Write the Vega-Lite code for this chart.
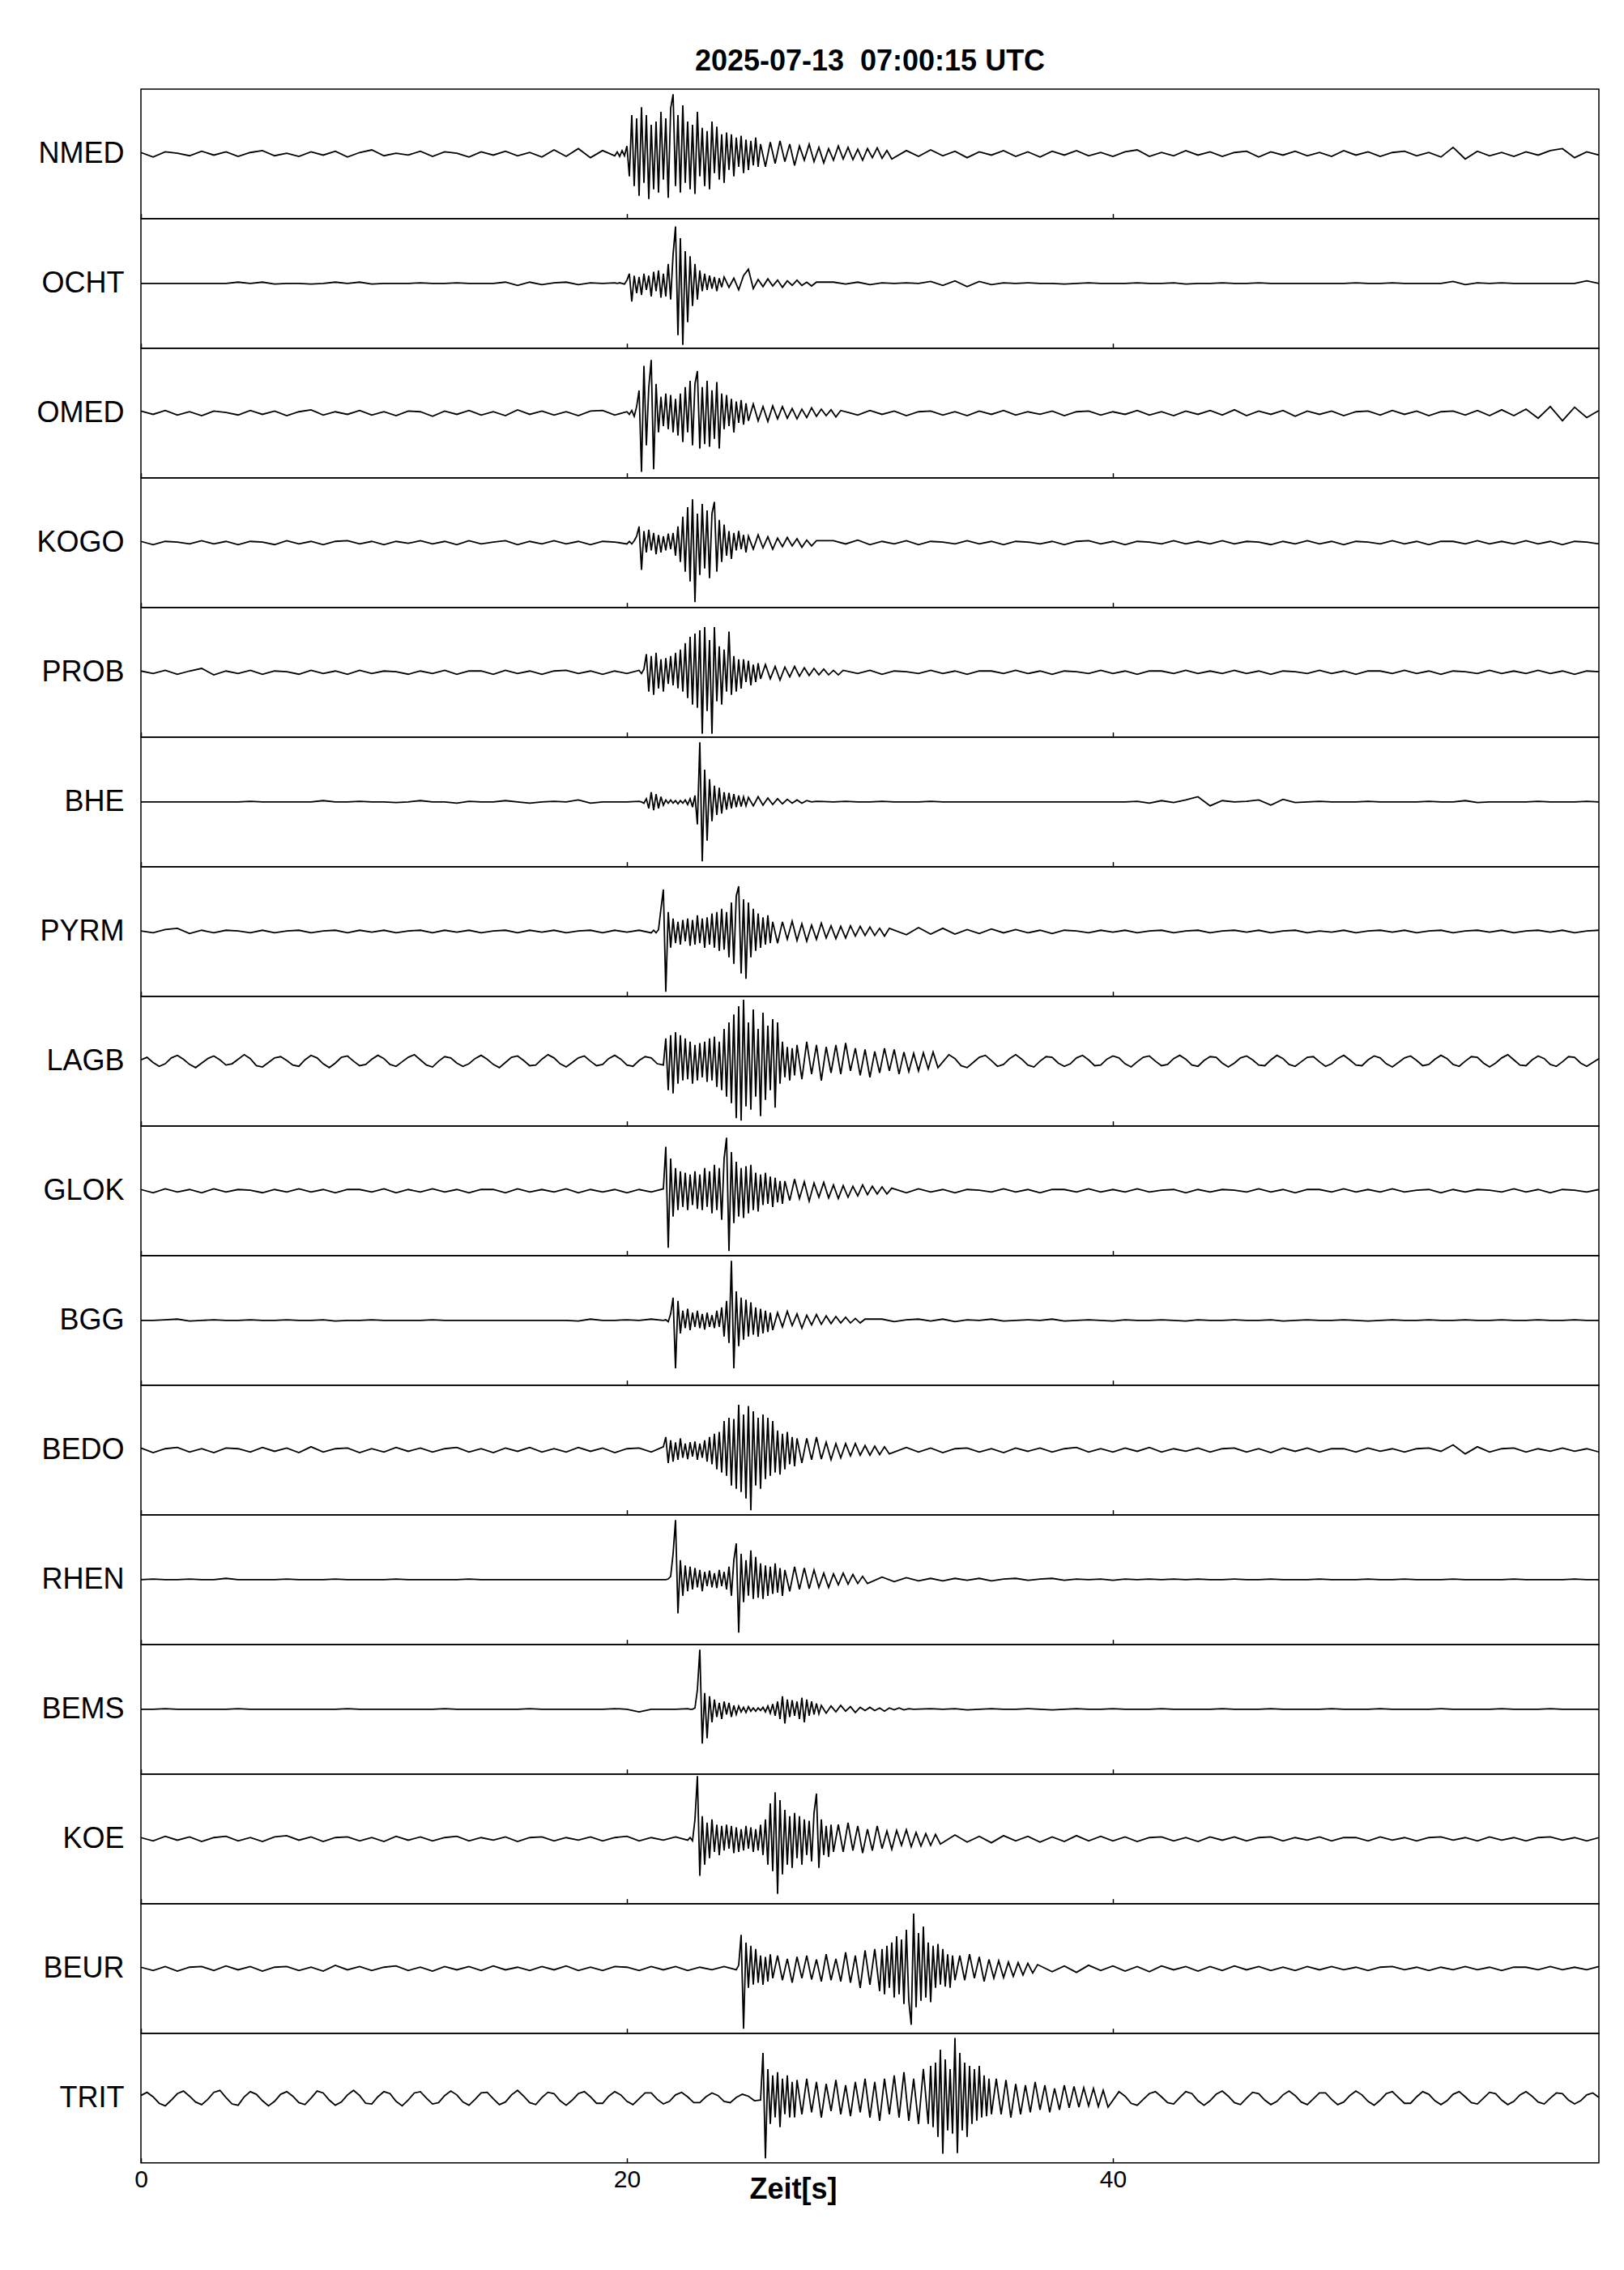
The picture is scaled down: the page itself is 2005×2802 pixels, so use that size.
{
"$schema":"https://vega.github.io/schema/vega-lite/v6.json",
"padding":{"left":44,"top":58,"right":32,"bottom":80},
"bounds":"flush",
"title":{"text":"2025-07-13\u00a0 07:00:15 UTC","font":"Liberation Sans","fontSize":36,"fontWeight":"bold","color":"black","anchor":"middle","frame":"group","offset":14},
"config":{
"view":{"continuousWidth":1800,"continuousHeight":159.7,"stroke":"black","strokeWidth":1.5},
"concat":{"spacing":0},
"line":{"color":"black","strokeWidth":1.8},
"axisX":{"labels":false,"domain":false,"grid":false,"tickSize":-6,"tickColor":"black","tickWidth":1.5,"labelFlush":false,"labelFont":"Liberation Sans","labelFontSize":30,"labelColor":"black","labelPadding":12,"titleFont":"Liberation Sans","titleFontSize":36,"titleFontWeight":"bold","titleColor":"black"},
"axisY":{"labels":false,"ticks":false,"domain":false,"grid":false,"titleAngle":0,"titleAlign":"right","titleBaseline":"middle","titleX":-21,"titleY":79,"titleFont":"Liberation Sans","titleFontSize":36,"titleFontWeight":"normal","titleColor":"black"}
},
"datasets":{
"NMED":[{"t":0,"v":0.02},{"t":0.5,"v":-0.05},{"t":1,"v":0.03},{"t":1.5,"v":0.01},{"t":2,"v":-0.03},{"t":2.5,"v":0.04},{"t":3,"v":-0.02},{"t":3.5,"v":0.03},{"t":4,"v":-0.04},{"t":4.5,"v":0.02},{"t":5,"v":0.05},{"t":5.5,"v":-0.03},{"t":6,"v":0.01},{"t":6.5,"v":-0.04},{"t":7,"v":0.03},{"t":7.5,"v":-0.02},{"t":8,"v":0.04},{"t":8.5,"v":-0.05},{"t":9,"v":0.02},{"t":9.5,"v":0.06},{"t":10,"v":-0.03},{"t":10.5,"v":0.01},{"t":11,"v":-0.02},{"t":11.5,"v":0.04},{"t":12,"v":-0.04},{"t":12.5,"v":0.03},{"t":13,"v":0.01},{"t":13.5,"v":-0.05},{"t":14,"v":0.03},{"t":14.5,"v":-0.02},{"t":15,"v":0.04},{"t":15.5,"v":-0.03},{"t":16,"v":0.02},{"t":16.5,"v":-0.05},{"t":17,"v":0.06},{"t":17.5,"v":-0.04},{"t":18,"v":0.08},{"t":18.5,"v":-0.06},{"t":19,"v":0.05},{"t":19.5,"v":-0.03},
{"t":19.6,"v":0.03},{"t":19.7,"v":-0.04},{"t":19.8,"v":0.05},{"t":19.9,"v":-0.03},{"t":20,"v":0.12},{"t":20.1,"v":-0.35},{"t":20.2,"v":0.6},{"t":20.3,"v":-0.5},{"t":20.4,"v":0.55},{"t":20.5,"v":-0.65},{"t":20.6,"v":0.72},{"t":20.7,"v":-0.45},{"t":20.8,"v":0.6},{"t":20.9,"v":-0.7},{"t":21,"v":0.45},{"t":21.1,"v":-0.55},{"t":21.2,"v":0.5},{"t":21.3,"v":-0.6},{"t":21.4,"v":0.65},{"t":21.5,"v":-0.4},{"t":21.6,"v":0.55},{"t":21.7,"v":-0.68},{"t":21.8,"v":0.7},{"t":21.9,"v":0.92},{"t":22,"v":-0.5},{"t":22.1,"v":0.6},{"t":22.2,"v":-0.6},{"t":22.3,"v":0.75},{"t":22.4,"v":-0.45},{"t":22.5,"v":0.5},{"t":22.6,"v":-0.55},{"t":22.7,"v":0.45},{"t":22.8,"v":-0.62},{"t":22.9,"v":0.65},{"t":23,"v":-0.35},{"t":23.1,"v":0.4},{"t":23.2,"v":-0.5},{"t":23.3,"v":0.35},{"t":23.4,"v":-0.55},{"t":23.5,"v":0.5},{"t":23.6,"v":-0.3},{"t":23.7,"v":0.42},{"t":23.8,"v":-0.4},{"t":23.9,"v":0.3},{"t":24,"v":-0.45},{"t":24.1,"v":0.33},{"t":24.2,"v":-0.25},{"t":24.3,"v":0.3},{"t":24.4,"v":-0.35},{"t":24.5,"v":0.25},{"t":24.6,"v":-0.2},{"t":24.7,"v":0.28},{"t":24.8,"v":-0.3},{"t":24.9,"v":0.22},{"t":25,"v":-0.25},{"t":25.1,"v":0.2},{"t":25.2,"v":-0.18},{"t":25.3,"v":0.25},{"t":25.4,"v":-0.2},{"t":25.5,"v":0.15},
{"t":25.7,"v":-0.2},{"t":25.9,"v":0.18},{"t":26.1,"v":-0.15},{"t":26.3,"v":0.2},{"t":26.5,"v":-0.12},{"t":26.7,"v":0.15},{"t":26.9,"v":-0.18},{"t":27.1,"v":0.12},{"t":27.3,"v":-0.1},{"t":27.5,"v":0.15},{"t":27.7,"v":-0.12},{"t":27.9,"v":0.1},{"t":28.1,"v":-0.14},{"t":28.3,"v":0.08},{"t":28.5,"v":-0.1},{"t":28.7,"v":0.12},{"t":28.9,"v":-0.08},{"t":29.1,"v":0.1},{"t":29.3,"v":-0.09},{"t":29.5,"v":0.07},{"t":29.7,"v":-0.1},{"t":29.9,"v":0.08},{"t":30.1,"v":-0.06},{"t":30.3,"v":0.09},{"t":30.5,"v":-0.07},{"t":30.7,"v":0.05},{"t":30.9,"v":-0.08},
{"t":31.5,"v":0.05},{"t":32,"v":-0.04},{"t":32.5,"v":0.06},{"t":33,"v":-0.03},{"t":33.5,"v":0.04},{"t":34,"v":-0.06},{"t":34.5,"v":0.03},{"t":35,"v":-0.02},{"t":35.5,"v":0.05},{"t":36,"v":-0.04},{"t":36.5,"v":0.03},{"t":37,"v":-0.05},{"t":37.5,"v":0.04},{"t":38,"v":-0.02},{"t":38.5,"v":0.05},{"t":39,"v":-0.03},{"t":39.5,"v":0.02},{"t":40,"v":-0.04},{"t":40.5,"v":0.03},{"t":41,"v":0.06},{"t":41.5,"v":-0.04},{"t":42,"v":0.02},{"t":42.5,"v":-0.03},{"t":43,"v":0.05},{"t":43.5,"v":-0.02},{"t":44,"v":0.03},{"t":44.5,"v":-0.04},{"t":45,"v":0.02},{"t":45.5,"v":0.04},{"t":46,"v":-0.05},{"t":46.5,"v":0.03},{"t":47,"v":-0.02},{"t":47.5,"v":0.04},{"t":48,"v":-0.03},{"t":48.5,"v":0.02},{"t":49,"v":-0.04},{"t":49.5,"v":0.05},{"t":50,"v":-0.02},{"t":50.5,"v":0.03},{"t":51,"v":-0.04},{"t":51.5,"v":0.02},{"t":52,"v":0.04},{"t":52.5,"v":-0.03},{"t":53,"v":0.02},{"t":53.5,"v":-0.05},{"t":54,"v":0.1},{"t":54.5,"v":-0.08},{"t":55,"v":0.04},{"t":55.5,"v":-0.03},{"t":56,"v":0.02},{"t":56.5,"v":-0.04},{"t":57,"v":0.03},{"t":57.5,"v":-0.02},{"t":58,"v":0.05},{"t":58.5,"v":0.08},{"t":59,"v":-0.06},{"t":59.5,"v":0.03},{"t":60,"v":-0.02}],
"OCHT":[{"t":0,"v":0},{"t":0.5,"v":0},{"t":1,"v":0},{"t":1.5,"v":0},{"t":2,"v":0},{"t":2.5,"v":0},{"t":3,"v":0},{"t":3.5,"v":0},{"t":4,"v":0.02},{"t":4.5,"v":0},{"t":5,"v":0.02},{"t":5.5,"v":-0.01},{"t":6,"v":0},{"t":6.5,"v":0},{"t":7,"v":-0.01},{"t":7.5,"v":0},{"t":8,"v":0.02},{"t":8.5,"v":0},{"t":9,"v":0.02},{"t":9.5,"v":-0.01},{"t":10,"v":0},{"t":10.5,"v":0},{"t":11,"v":0},{"t":11.5,"v":0.01},{"t":12,"v":0},{"t":12.5,"v":0},{"t":13,"v":0.01},{"t":13.5,"v":0},{"t":14,"v":0},{"t":14.5,"v":0},{"t":15,"v":0.02},{"t":15.5,"v":-0.03},{"t":16,"v":0.02},{"t":16.5,"v":-0.02},{"t":17,"v":0.01},{"t":17.5,"v":0.02},{"t":18,"v":-0.02},{"t":18.5,"v":0.01},{"t":19,"v":0},{"t":19.5,"v":0.01},
{"t":19.6,"v":0},{"t":19.7,"v":0.01},{"t":19.8,"v":0},{"t":19.9,"v":-0.01},{"t":20,"v":0.05},{"t":20.1,"v":0.15},{"t":20.2,"v":-0.28},{"t":20.3,"v":0.12},{"t":20.4,"v":-0.15},{"t":20.5,"v":0.1},{"t":20.6,"v":-0.18},{"t":20.7,"v":0.15},{"t":20.8,"v":-0.1},{"t":20.9,"v":0.12},{"t":21,"v":-0.2},{"t":21.1,"v":0.18},{"t":21.2,"v":-0.12},{"t":21.3,"v":0.2},{"t":21.4,"v":-0.22},{"t":21.5,"v":0.15},{"t":21.6,"v":-0.2},{"t":21.7,"v":0.3},{"t":21.8,"v":-0.25},{"t":21.9,"v":0.45},{"t":22,"v":0.88},{"t":22.1,"v":-0.8},{"t":22.2,"v":0.7},{"t":22.3,"v":-0.95},{"t":22.4,"v":0.5},{"t":22.5,"v":-0.6},{"t":22.6,"v":0.42},{"t":22.7,"v":-0.35},{"t":22.8,"v":0.3},{"t":22.9,"v":-0.25},{"t":23,"v":0.2},{"t":23.1,"v":-0.12},{"t":23.2,"v":0.15},{"t":23.3,"v":-0.1},{"t":23.4,"v":0.12},{"t":23.5,"v":-0.08},{"t":23.6,"v":0.1},{"t":23.7,"v":-0.12},{"t":23.8,"v":0.08},{"t":23.9,"v":-0.06},{"t":24,"v":0.1},
{"t":24.2,"v":-0.06},{"t":24.4,"v":0.08},{"t":24.6,"v":-0.1},{"t":24.8,"v":0.12},{"t":25,"v":0.22},{"t":25.2,"v":-0.08},{"t":25.4,"v":0.06},{"t":25.6,"v":-0.05},{"t":25.8,"v":0.07},{"t":26,"v":-0.04},{"t":26.2,"v":0.05},{"t":26.4,"v":-0.06},{"t":26.6,"v":0.04},{"t":26.8,"v":-0.03},{"t":27,"v":0.05},{"t":27.2,"v":-0.03},{"t":27.4,"v":0.02},{"t":27.6,"v":-0.04},{"t":27.8,"v":0.02},
{"t":28.5,"v":0.02},{"t":29,"v":-0.01},{"t":29.5,"v":0.02},{"t":30,"v":-0.02},{"t":30.5,"v":0.01},{"t":31,"v":0},{"t":31.5,"v":0.01},{"t":32,"v":0},{"t":32.5,"v":0.03},{"t":33,"v":-0.03},{"t":33.5,"v":0.04},{"t":34,"v":-0.05},{"t":34.5,"v":0.03},{"t":35,"v":-0.02},{"t":35.5,"v":0.01},{"t":36,"v":0},{"t":36.5,"v":0.01},{"t":37,"v":0},{"t":37.5,"v":0},{"t":38,"v":-0.01},{"t":38.5,"v":0},{"t":39,"v":0.01},{"t":39.5,"v":0},{"t":40,"v":0},{"t":40.5,"v":0},{"t":41,"v":0.01},{"t":41.5,"v":0},{"t":42,"v":0},{"t":42.5,"v":0.01},{"t":43,"v":-0.01},{"t":43.5,"v":0},{"t":44,"v":0},{"t":44.5,"v":0.01},{"t":45,"v":0},{"t":45.5,"v":0},{"t":46,"v":0.01},{"t":46.5,"v":0},{"t":47,"v":0},{"t":47.5,"v":0},{"t":48,"v":0},{"t":48.5,"v":0},{"t":49,"v":0},{"t":49.5,"v":0},{"t":50,"v":0.01},{"t":50.5,"v":0},{"t":51,"v":0},{"t":51.5,"v":0.01},{"t":52,"v":0},{"t":52.5,"v":0},{"t":53,"v":0},{"t":53.5,"v":0},{"t":54,"v":0.03},{"t":54.5,"v":-0.02},{"t":55,"v":0.01},{"t":55.5,"v":0},{"t":56,"v":0.01},{"t":56.5,"v":0},{"t":57,"v":0},{"t":57.5,"v":0},{"t":58,"v":0},{"t":58.5,"v":0},{"t":59,"v":0},{"t":59.5,"v":0.04},{"t":60,"v":0}],
"OMED":[{"t":0,"v":0.03},{"t":0.5,"v":-0.02},{"t":1,"v":0.04},{"t":1.5,"v":-0.03},{"t":2,"v":0.02},{"t":2.5,"v":-0.04},{"t":3,"v":0.03},{"t":3.5,"v":0.01},{"t":4,"v":-0.03},{"t":4.5,"v":0.04},{"t":5,"v":-0.02},{"t":5.5,"v":0.03},{"t":6,"v":-0.04},{"t":6.5,"v":0.02},{"t":7,"v":0.05},{"t":7.5,"v":-0.03},{"t":8,"v":0.02},{"t":8.5,"v":-0.02},{"t":9,"v":0.04},{"t":9.5,"v":-0.03},{"t":10,"v":0.02},{"t":10.5,"v":-0.04},{"t":11,"v":0.03},{"t":11.5,"v":0.02},{"t":12,"v":-0.05},{"t":12.5,"v":0.03},{"t":13,"v":-0.02},{"t":13.5,"v":0.04},{"t":14,"v":-0.03},{"t":14.5,"v":0.02},{"t":15,"v":-0.04},{"t":15.5,"v":0.05},{"t":16,"v":-0.02},{"t":16.5,"v":0.03},{"t":17,"v":-0.03},{"t":17.5,"v":0.02},{"t":18,"v":-0.04},{"t":18.5,"v":0.03},{"t":19,"v":0.04},{"t":19.5,"v":-0.03},{"t":20,"v":0.02},
{"t":20.1,"v":-0.02},{"t":20.2,"v":0.04},{"t":20.3,"v":-0.05},{"t":20.4,"v":0.1},{"t":20.5,"v":0.35},{"t":20.6,"v":-0.91},{"t":20.7,"v":0.73},{"t":20.8,"v":-0.5},{"t":20.9,"v":0.4},{"t":21,"v":0.82},{"t":21.1,"v":-0.87},{"t":21.2,"v":0.45},{"t":21.3,"v":-0.3},{"t":21.4,"v":0.25},{"t":21.5,"v":-0.2},{"t":21.6,"v":0.3},{"t":21.7,"v":-0.25},{"t":21.8,"v":0.28},{"t":21.9,"v":-0.3},{"t":22,"v":0.22},{"t":22.1,"v":-0.35},{"t":22.2,"v":0.3},{"t":22.3,"v":-0.45},{"t":22.4,"v":0.4},{"t":22.5,"v":-0.3},{"t":22.6,"v":0.5},{"t":22.7,"v":-0.5},{"t":22.8,"v":0.45},{"t":22.9,"v":0.65},{"t":23,"v":-0.55},{"t":23.1,"v":0.4},{"t":23.2,"v":-0.48},{"t":23.3,"v":0.5},{"t":23.4,"v":-0.52},{"t":23.5,"v":0.35},{"t":23.6,"v":-0.4},{"t":23.7,"v":0.48},{"t":23.8,"v":-0.55},{"t":23.9,"v":0.3},{"t":24,"v":-0.25},{"t":24.1,"v":0.28},{"t":24.2,"v":-0.2},{"t":24.3,"v":0.22},{"t":24.4,"v":-0.3},{"t":24.5,"v":0.18},{"t":24.6,"v":-0.15},{"t":24.7,"v":0.2},{"t":24.8,"v":-0.18},{"t":24.9,"v":0.15},{"t":25,"v":-0.12},
{"t":25.2,"v":0.14},{"t":25.4,"v":-0.12},{"t":25.6,"v":0.1},{"t":25.8,"v":-0.13},{"t":26,"v":0.11},{"t":26.2,"v":-0.09},{"t":26.4,"v":0.1},{"t":26.6,"v":-0.08},{"t":26.8,"v":0.07},{"t":27,"v":-0.09},{"t":27.2,"v":0.06},{"t":27.4,"v":-0.07},{"t":27.6,"v":0.08},{"t":27.8,"v":-0.05},{"t":28,"v":0.06},{"t":28.2,"v":-0.04},{"t":28.4,"v":0.05},{"t":28.6,"v":-0.06},{"t":28.8,"v":0.04},
{"t":29.5,"v":-0.03},{"t":30,"v":0.04},{"t":30.5,"v":-0.02},{"t":31,"v":0.03},{"t":31.5,"v":-0.04},{"t":32,"v":0.02},{"t":32.5,"v":0.03},{"t":33,"v":-0.03},{"t":33.5,"v":0.02},{"t":34,"v":-0.04},{"t":34.5,"v":0.03},{"t":35,"v":-0.02},{"t":35.5,"v":0.04},{"t":36,"v":-0.03},{"t":36.5,"v":0.02},{"t":37,"v":-0.02},{"t":37.5,"v":0.03},{"t":38,"v":-0.04},{"t":38.5,"v":0.02},{"t":39,"v":0.03},{"t":39.5,"v":-0.03},{"t":40,"v":0.02},{"t":40.5,"v":-0.02},{"t":41,"v":0.04},{"t":41.5,"v":-0.03},{"t":42,"v":0.02},{"t":42.5,"v":-0.04},{"t":43,"v":0.03},{"t":43.5,"v":-0.02},{"t":44,"v":0.04},{"t":44.5,"v":-0.03},{"t":45,"v":0.05},{"t":45.5,"v":-0.04},{"t":46,"v":0.03},{"t":46.5,"v":-0.02},{"t":47,"v":0.04},{"t":47.5,"v":-0.05},{"t":48,"v":0.03},{"t":48.5,"v":-0.02},{"t":49,"v":0.03},{"t":49.5,"v":-0.04},{"t":50,"v":0.02},{"t":50.5,"v":0.03},{"t":51,"v":-0.03},{"t":51.5,"v":0.04},{"t":52,"v":-0.02},{"t":52.5,"v":0.03},{"t":53,"v":-0.04},{"t":53.5,"v":0.02},{"t":54,"v":0.03},{"t":54.5,"v":-0.03},{"t":55,"v":0.04},{"t":55.5,"v":-0.04},{"t":56,"v":0.05},{"t":56.5,"v":-0.04},{"t":57,"v":0.06},{"t":57.5,"v":-0.08},{"t":58,"v":0.1},{"t":58.5,"v":-0.12},{"t":59,"v":0.09},{"t":59.5,"v":-0.07},{"t":60,"v":0.04}],
"KOGO":[{"t":0,"v":0.02},{"t":0.5,"v":-0.03},{"t":1,"v":0.02},{"t":1.5,"v":0.01},{"t":2,"v":-0.02},{"t":2.5,"v":0.03},{"t":3,"v":-0.02},{"t":3.5,"v":0.02},{"t":4,"v":-0.03},{"t":4.5,"v":0.02},{"t":5,"v":0.01},{"t":5.5,"v":-0.03},{"t":6,"v":0.03},{"t":6.5,"v":-0.02},{"t":7,"v":0.02},{"t":7.5,"v":-0.03},{"t":8,"v":0.02},{"t":8.5,"v":0.03},{"t":9,"v":-0.02},{"t":9.5,"v":0.02},{"t":10,"v":-0.03},{"t":10.5,"v":0.02},{"t":11,"v":-0.01},{"t":11.5,"v":0.03},{"t":12,"v":-0.02},{"t":12.5,"v":0.02},{"t":13,"v":-0.03},{"t":13.5,"v":0.03},{"t":14,"v":-0.02},{"t":14.5,"v":0.01},{"t":15,"v":0.03},{"t":15.5,"v":-0.03},{"t":16,"v":0.02},{"t":16.5,"v":-0.02},{"t":17,"v":0.03},{"t":17.5,"v":-0.02},{"t":18,"v":0.02},{"t":18.5,"v":-0.03},{"t":19,"v":0.02},{"t":19.5,"v":0.01},{"t":20,"v":-0.02},
{"t":20.1,"v":0.02},{"t":20.2,"v":-0.02},{"t":20.3,"v":0.03},{"t":20.4,"v":0.1},{"t":20.5,"v":0.25},{"t":20.6,"v":-0.42},{"t":20.7,"v":0.18},{"t":20.8,"v":-0.15},{"t":20.9,"v":0.2},{"t":21,"v":-0.12},{"t":21.1,"v":0.15},{"t":21.2,"v":-0.18},{"t":21.3,"v":0.12},{"t":21.4,"v":-0.15},{"t":21.5,"v":0.1},{"t":21.6,"v":-0.12},{"t":21.7,"v":0.14},{"t":21.8,"v":-0.1},{"t":21.9,"v":0.15},{"t":22,"v":-0.2},{"t":22.1,"v":0.25},{"t":22.2,"v":-0.3},{"t":22.3,"v":0.4},{"t":22.4,"v":-0.45},{"t":22.5,"v":0.55},{"t":22.6,"v":-0.6},{"t":22.7,"v":0.67},{"t":22.8,"v":-0.92},{"t":22.9,"v":0.45},{"t":23,"v":-0.5},{"t":23.1,"v":0.6},{"t":23.2,"v":-0.4},{"t":23.3,"v":0.5},{"t":23.4,"v":-0.55},{"t":23.5,"v":0.45},{"t":23.6,"v":0.63},{"t":23.7,"v":-0.45},{"t":23.8,"v":0.35},{"t":23.9,"v":-0.3},{"t":24,"v":0.28},{"t":24.1,"v":-0.2},{"t":24.2,"v":0.18},{"t":24.3,"v":-0.25},{"t":24.4,"v":0.15},{"t":24.5,"v":-0.12},{"t":24.6,"v":0.18},{"t":24.7,"v":-0.1},{"t":24.8,"v":0.12},{"t":24.9,"v":-0.15},{"t":25,"v":0.1},
{"t":25.2,"v":-0.1},{"t":25.4,"v":0.12},{"t":25.6,"v":-0.08},{"t":25.8,"v":0.09},{"t":26,"v":-0.1},{"t":26.2,"v":0.07},{"t":26.4,"v":-0.06},{"t":26.6,"v":0.08},{"t":26.8,"v":-0.05},{"t":27,"v":0.06},{"t":27.2,"v":-0.07},{"t":27.4,"v":0.04},{"t":27.6,"v":-0.05},{"t":27.8,"v":0.03},
{"t":28.5,"v":0.03},{"t":29,"v":-0.02},{"t":29.5,"v":0.04},{"t":30,"v":-0.03},{"t":30.5,"v":0.02},{"t":31,"v":-0.02},{"t":31.5,"v":0.03},{"t":32,"v":-0.03},{"t":32.5,"v":0.02},{"t":33,"v":0.01},{"t":33.5,"v":-0.02},{"t":34,"v":0.03},{"t":34.5,"v":-0.02},{"t":35,"v":0.02},{"t":35.5,"v":-0.03},{"t":36,"v":0.02},{"t":36.5,"v":0.01},{"t":37,"v":-0.02},{"t":37.5,"v":0.02},{"t":38,"v":-0.03},{"t":38.5,"v":0.02},{"t":39,"v":0.03},{"t":39.5,"v":-0.02},{"t":40,"v":0.02},{"t":40.5,"v":-0.03},{"t":41,"v":0.02},{"t":41.5,"v":0.01},{"t":42,"v":-0.02},{"t":42.5,"v":0.03},{"t":43,"v":-0.02},{"t":43.5,"v":0.02},{"t":44,"v":-0.02},{"t":44.5,"v":0.03},{"t":45,"v":-0.02},{"t":45.5,"v":0.02},{"t":46,"v":0.01},{"t":46.5,"v":-0.03},{"t":47,"v":0.02},{"t":47.5,"v":-0.02},{"t":48,"v":0.03},{"t":48.5,"v":-0.02},{"t":49,"v":0.02},{"t":49.5,"v":-0.03},{"t":50,"v":0.02},{"t":50.5,"v":0.01},{"t":51,"v":-0.02},{"t":51.5,"v":0.03},{"t":52,"v":-0.02},{"t":52.5,"v":0.02},{"t":53,"v":-0.03},{"t":53.5,"v":0.02},{"t":54,"v":0.02},{"t":54.5,"v":-0.02},{"t":55,"v":0.03},{"t":55.5,"v":-0.02},{"t":56,"v":0.02},{"t":56.5,"v":-0.02},{"t":57,"v":0.03},{"t":57.5,"v":-0.02},{"t":58,"v":0.02},{"t":58.5,"v":-0.03},{"t":59,"v":0.02},{"t":59.5,"v":0.01},{"t":60,"v":-0.02}],
"PROB":[{"t":0,"v":0.02},{"t":0.5,"v":-0.02},{"t":1,"v":0.03},{"t":1.5,"v":-0.03},{"t":2,"v":0.02},{"t":2.5,"v":0.06},{"t":3,"v":-0.04},{"t":3.5,"v":0.02},{"t":4,"v":-0.02},{"t":4.5,"v":0.03},{"t":5,"v":-0.03},{"t":5.5,"v":0.02},{"t":6,"v":0.01},{"t":6.5,"v":-0.03},{"t":7,"v":0.03},{"t":7.5,"v":-0.02},{"t":8,"v":0.02},{"t":8.5,"v":-0.03},{"t":9,"v":0.03},{"t":9.5,"v":-0.02},{"t":10,"v":0.02},{"t":10.5,"v":0.01},{"t":11,"v":-0.03},{"t":11.5,"v":0.02},{"t":12,"v":-0.02},{"t":12.5,"v":0.03},{"t":13,"v":-0.03},{"t":13.5,"v":0.02},{"t":14,"v":0.02},{"t":14.5,"v":-0.03},{"t":15,"v":0.03},{"t":15.5,"v":-0.02},{"t":16,"v":0.02},{"t":16.5,"v":-0.03},{"t":17,"v":0.02},{"t":17.5,"v":0.03},{"t":18,"v":-0.02},{"t":18.5,"v":0.02},{"t":19,"v":-0.03},{"t":19.5,"v":0.02},{"t":20,"v":-0.02},{"t":20.5,"v":0.03},
{"t":20.6,"v":-0.02},{"t":20.7,"v":0.05},{"t":20.8,"v":0.28},{"t":20.9,"v":-0.3},{"t":21,"v":0.25},{"t":21.1,"v":-0.35},{"t":21.2,"v":0.3},{"t":21.3,"v":-0.25},{"t":21.4,"v":0.2},{"t":21.5,"v":-0.3},{"t":21.6,"v":0.22},{"t":21.7,"v":-0.18},{"t":21.8,"v":0.25},{"t":21.9,"v":-0.2},{"t":22,"v":0.3},{"t":22.1,"v":-0.25},{"t":22.2,"v":0.35},{"t":22.3,"v":-0.3},{"t":22.4,"v":0.45},{"t":22.5,"v":-0.4},{"t":22.6,"v":0.55},{"t":22.7,"v":-0.5},{"t":22.8,"v":0.6},{"t":22.9,"v":-0.55},{"t":23,"v":0.65},{"t":23.1,"v":-0.95},{"t":23.2,"v":0.7},{"t":23.3,"v":-0.6},{"t":23.4,"v":0.5},{"t":23.5,"v":-0.95},{"t":23.6,"v":0.7},{"t":23.7,"v":-0.45},{"t":23.8,"v":0.4},{"t":23.9,"v":-0.5},{"t":24,"v":0.35},{"t":24.1,"v":-0.3},{"t":24.2,"v":0.63},{"t":24.3,"v":-0.35},{"t":24.4,"v":0.25},{"t":24.5,"v":-0.3},{"t":24.6,"v":0.2},{"t":24.7,"v":-0.25},{"t":24.8,"v":0.2},{"t":24.9,"v":-0.15},{"t":25,"v":0.18},{"t":25.1,"v":-0.2},{"t":25.2,"v":0.12},{"t":25.3,"v":-0.15},{"t":25.4,"v":0.14},{"t":25.5,"v":-0.1},
{"t":25.7,"v":0.12},{"t":25.9,"v":-0.1},{"t":26.1,"v":0.09},{"t":26.3,"v":-0.12},{"t":26.5,"v":0.08},{"t":26.7,"v":-0.07},{"t":26.9,"v":0.09},{"t":27.1,"v":-0.06},{"t":27.3,"v":0.07},{"t":27.5,"v":-0.05},{"t":27.7,"v":0.06},{"t":27.9,"v":-0.04},{"t":28.1,"v":0.05},{"t":28.3,"v":-0.04},{"t":28.5,"v":0.03},{"t":28.7,"v":-0.04},{"t":28.9,"v":0.03},
{"t":29.5,"v":-0.02},{"t":30,"v":0.03},{"t":30.5,"v":-0.03},{"t":31,"v":0.02},{"t":31.5,"v":0.01},{"t":32,"v":-0.02},{"t":32.5,"v":0.03},{"t":33,"v":-0.02},{"t":33.5,"v":0.02},{"t":34,"v":-0.03},{"t":34.5,"v":0.02},{"t":35,"v":0.02},{"t":35.5,"v":-0.02},{"t":36,"v":0.03},{"t":36.5,"v":-0.02},{"t":37,"v":0.02},{"t":37.5,"v":-0.03},{"t":38,"v":0.02},{"t":38.5,"v":0.01},{"t":39,"v":-0.02},{"t":39.5,"v":0.03},{"t":40,"v":-0.02},{"t":40.5,"v":0.02},{"t":41,"v":-0.03},{"t":41.5,"v":0.02},{"t":42,"v":0.02},{"t":42.5,"v":-0.02},{"t":43,"v":0.03},{"t":43.5,"v":-0.02},{"t":44,"v":0.02},{"t":44.5,"v":-0.02},{"t":45,"v":0.03},{"t":45.5,"v":-0.02},{"t":46,"v":0.02},{"t":46.5,"v":-0.03},{"t":47,"v":0.02},{"t":47.5,"v":0.01},{"t":48,"v":-0.02},{"t":48.5,"v":0.03},{"t":49,"v":-0.02},{"t":49.5,"v":0.02},{"t":50,"v":-0.03},{"t":50.5,"v":0.02},{"t":51,"v":0.02},{"t":51.5,"v":-0.02},{"t":52,"v":0.03},{"t":52.5,"v":-0.02},{"t":53,"v":0.02},{"t":53.5,"v":-0.03},{"t":54,"v":0.02},{"t":54.5,"v":0.01},{"t":55,"v":-0.02},{"t":55.5,"v":0.03},{"t":56,"v":-0.02},{"t":56.5,"v":0.02},{"t":57,"v":-0.02},{"t":57.5,"v":0.03},{"t":58,"v":-0.02},{"t":58.5,"v":0.02},{"t":59,"v":-0.03},{"t":59.5,"v":0.02},{"t":60,"v":0.01}],
"BHE":[{"t":0,"v":0},{"t":0.5,"v":0},{"t":1,"v":0},{"t":1.5,"v":0},{"t":2,"v":0},{"t":2.5,"v":0},{"t":3,"v":0},{"t":3.5,"v":0},{"t":4,"v":0},{"t":4.5,"v":0.01},{"t":5,"v":0},{"t":5.5,"v":0},{"t":6,"v":0},{"t":6.5,"v":0},{"t":7,"v":0},{"t":7.5,"v":0.02},{"t":8,"v":0},{"t":8.5,"v":0},{"t":9,"v":0.01},{"t":9.5,"v":0},{"t":10,"v":0},{"t":10.5,"v":-0.01},{"t":11,"v":0},{"t":11.5,"v":0.02},{"t":12,"v":0},{"t":12.5,"v":0},{"t":13,"v":-0.02},{"t":13.5,"v":0.01},{"t":14,"v":0},{"t":14.5,"v":0},{"t":15,"v":0.02},{"t":15.5,"v":0},{"t":16,"v":-0.02},{"t":16.5,"v":0},{"t":17,"v":0.01},{"t":17.5,"v":0},{"t":18,"v":0.03},{"t":18.5,"v":-0.02},{"t":19,"v":0},{"t":19.5,"v":0},{"t":20,"v":0},{"t":20.5,"v":0.01},
{"t":20.6,"v":0},{"t":20.7,"v":-0.02},{"t":20.8,"v":0.05},{"t":20.9,"v":-0.1},{"t":21,"v":0.15},{"t":21.1,"v":-0.13},{"t":21.2,"v":0.12},{"t":21.3,"v":-0.1},{"t":21.4,"v":0.08},{"t":21.5,"v":-0.05},{"t":21.6,"v":0.03},{"t":21.7,"v":-0.02},{"t":21.8,"v":0.03},{"t":21.9,"v":-0.02},{"t":22,"v":0.02},{"t":22.1,"v":-0.03},{"t":22.2,"v":0.02},{"t":22.3,"v":-0.02},{"t":22.4,"v":0.03},{"t":22.5,"v":-0.04},{"t":22.6,"v":0.05},{"t":22.7,"v":-0.08},{"t":22.8,"v":0.1},{"t":22.9,"v":-0.35},{"t":23,"v":0.92},{"t":23.1,"v":-0.92},{"t":23.2,"v":0.5},{"t":23.3,"v":-0.6},{"t":23.4,"v":0.35},{"t":23.5,"v":-0.3},{"t":23.6,"v":0.25},{"t":23.7,"v":-0.2},{"t":23.8,"v":0.22},{"t":23.9,"v":-0.18},{"t":24,"v":0.15},{"t":24.1,"v":-0.12},{"t":24.2,"v":0.14},{"t":24.3,"v":-0.1},{"t":24.4,"v":0.12},{"t":24.5,"v":-0.08},{"t":24.6,"v":0.1},{"t":24.7,"v":-0.07},{"t":24.8,"v":0.08},{"t":24.9,"v":-0.06},{"t":25,"v":0.07},
{"t":25.2,"v":-0.06},{"t":25.4,"v":0.08},{"t":25.6,"v":-0.05},{"t":25.8,"v":0.06},{"t":26,"v":-0.04},{"t":26.2,"v":0.05},{"t":26.4,"v":-0.03},{"t":26.6,"v":0.04},{"t":26.8,"v":-0.02},{"t":27,"v":0.03},{"t":27.2,"v":-0.02},{"t":27.4,"v":0.02},{"t":27.6,"v":0},{"t":27.8,"v":0.01},
{"t":28.5,"v":0},{"t":29,"v":0.01},{"t":29.5,"v":0},{"t":30,"v":0},{"t":30.5,"v":0.01},{"t":31,"v":0},{"t":31.5,"v":0},{"t":32,"v":0},{"t":32.5,"v":0.01},{"t":33,"v":0},{"t":33.5,"v":0},{"t":34,"v":0},{"t":34.5,"v":0},{"t":35,"v":0},{"t":35.5,"v":0},{"t":36,"v":0},{"t":36.5,"v":0},{"t":37,"v":0},{"t":37.5,"v":0},{"t":38,"v":0},{"t":38.5,"v":0},{"t":39,"v":0},{"t":39.5,"v":0},{"t":40,"v":0},{"t":40.5,"v":0},{"t":41,"v":0.01},{"t":41.5,"v":-0.02},{"t":42,"v":0.02},{"t":42.5,"v":-0.01},{"t":43,"v":0.03},{"t":43.5,"v":0.08},{"t":44,"v":-0.06},{"t":44.5,"v":0.02},{"t":45,"v":0},{"t":45.5,"v":0.01},{"t":46,"v":0.03},{"t":46.5,"v":-0.05},{"t":47,"v":0.04},{"t":47.5,"v":-0.01},{"t":48,"v":0},{"t":48.5,"v":0.01},{"t":49,"v":0},{"t":49.5,"v":0},{"t":50,"v":0},{"t":50.5,"v":0.01},{"t":51,"v":0},{"t":51.5,"v":0},{"t":52,"v":0},{"t":52.5,"v":0},{"t":53,"v":0.01},{"t":53.5,"v":0},{"t":54,"v":0},{"t":54.5,"v":0.02},{"t":55,"v":-0.01},{"t":55.5,"v":0},{"t":56,"v":0},{"t":56.5,"v":0},{"t":57,"v":0},{"t":57.5,"v":0.01},{"t":58,"v":0},{"t":58.5,"v":0},{"t":59,"v":0},{"t":59.5,"v":0.01},{"t":60,"v":0}],
"PYRM":[{"t":0,"v":0.01},{"t":0.5,"v":-0.02},{"t":1,"v":0.03},{"t":1.5,"v":0.05},{"t":2,"v":-0.03},{"t":2.5,"v":0.02},{"t":3,"v":-0.02},{"t":3.5,"v":0.02},{"t":4,"v":0.01},{"t":4.5,"v":-0.02},{"t":5,"v":0.02},{"t":5.5,"v":-0.02},{"t":6,"v":0.01},{"t":6.5,"v":0.02},{"t":7,"v":-0.02},{"t":7.5,"v":0.01},{"t":8,"v":0.02},{"t":8.5,"v":-0.02},{"t":9,"v":0.02},{"t":9.5,"v":-0.01},{"t":10,"v":0.02},{"t":10.5,"v":-0.02},{"t":11,"v":0.01},{"t":11.5,"v":0.02},{"t":12,"v":-0.02},{"t":12.5,"v":0.02},{"t":13,"v":-0.01},{"t":13.5,"v":0.02},{"t":14,"v":-0.02},{"t":14.5,"v":0.01},{"t":15,"v":0.02},{"t":15.5,"v":-0.02},{"t":16,"v":0.02},{"t":16.5,"v":-0.01},{"t":17,"v":0.02},{"t":17.5,"v":-0.02},{"t":18,"v":0.01},{"t":18.5,"v":0.02},{"t":19,"v":-0.02},{"t":19.5,"v":0.02},{"t":20,"v":-0.01},{"t":20.5,"v":0.02},{"t":21,"v":-0.02},
{"t":21.1,"v":0.02},{"t":21.2,"v":-0.02},{"t":21.3,"v":0.03},{"t":21.4,"v":0.35},{"t":21.5,"v":0.65},{"t":21.6,"v":-0.93},{"t":21.7,"v":0.3},{"t":21.8,"v":-0.25},{"t":21.9,"v":0.2},{"t":22,"v":-0.18},{"t":22.1,"v":0.15},{"t":22.2,"v":-0.2},{"t":22.3,"v":0.18},{"t":22.4,"v":-0.15},{"t":22.5,"v":0.2},{"t":22.6,"v":-0.22},{"t":22.7,"v":0.18},{"t":22.8,"v":-0.2},{"t":22.9,"v":0.25},{"t":23,"v":-0.18},{"t":23.1,"v":0.2},{"t":23.2,"v":-0.25},{"t":23.3,"v":0.22},{"t":23.4,"v":-0.2},{"t":23.5,"v":0.28},{"t":23.6,"v":-0.25},{"t":23.7,"v":0.3},{"t":23.8,"v":-0.3},{"t":23.9,"v":0.35},{"t":24,"v":-0.28},{"t":24.1,"v":0.3},{"t":24.2,"v":-0.4},{"t":24.3,"v":0.45},{"t":24.4,"v":-0.5},{"t":24.5,"v":0.55},{"t":24.6,"v":0.7},{"t":24.7,"v":-0.65},{"t":24.8,"v":0.5},{"t":24.9,"v":-0.73},{"t":25,"v":0.45},{"t":25.1,"v":-0.4},{"t":25.2,"v":0.35},{"t":25.3,"v":-0.3},{"t":25.4,"v":0.28},{"t":25.5,"v":-0.25},{"t":25.6,"v":0.22},{"t":25.7,"v":-0.2},{"t":25.8,"v":0.25},{"t":25.9,"v":-0.18},{"t":26,"v":0.15},
{"t":26.2,"v":-0.18},{"t":26.4,"v":0.15},{"t":26.6,"v":-0.12},{"t":26.8,"v":0.16},{"t":27,"v":-0.14},{"t":27.2,"v":0.12},{"t":27.4,"v":-0.15},{"t":27.6,"v":0.1},{"t":27.8,"v":-0.12},{"t":28,"v":0.13},{"t":28.2,"v":-0.1},{"t":28.4,"v":0.09},{"t":28.6,"v":-0.11},{"t":28.8,"v":0.08},{"t":29,"v":-0.1},{"t":29.2,"v":0.09},{"t":29.4,"v":-0.07},{"t":29.6,"v":0.08},{"t":29.8,"v":-0.06},{"t":30,"v":0.07},{"t":30.2,"v":-0.06},{"t":30.4,"v":0.05},{"t":30.6,"v":-0.07},{"t":30.8,"v":0.05},
{"t":31.5,"v":-0.05},{"t":32,"v":0.06},{"t":32.5,"v":-0.04},{"t":33,"v":0.05},{"t":33.5,"v":-0.04},{"t":34,"v":0.03},{"t":34.5,"v":-0.03},{"t":35,"v":0.04},{"t":35.5,"v":-0.02},{"t":36,"v":0.03},{"t":36.5,"v":-0.02},{"t":37,"v":0.02},{"t":37.5,"v":-0.03},{"t":38,"v":0.02},{"t":38.5,"v":0.01},{"t":39,"v":-0.02},{"t":39.5,"v":0.02},{"t":40,"v":-0.01},{"t":40.5,"v":0.02},{"t":41,"v":-0.02},{"t":41.5,"v":0.01},{"t":42,"v":0.02},{"t":42.5,"v":-0.02},{"t":43,"v":0.01},{"t":43.5,"v":0.02},{"t":44,"v":-0.02},{"t":44.5,"v":0.01},{"t":45,"v":0.02},{"t":45.5,"v":-0.01},{"t":46,"v":0.02},{"t":46.5,"v":-0.02},{"t":47,"v":0.01},{"t":47.5,"v":0.02},{"t":48,"v":-0.02},{"t":48.5,"v":0.01},{"t":49,"v":-0.01},{"t":49.5,"v":0.02},{"t":50,"v":-0.02},{"t":50.5,"v":0.01},{"t":51,"v":0.02},{"t":51.5,"v":-0.01},{"t":52,"v":0.02},{"t":52.5,"v":-0.02},{"t":53,"v":0.01},{"t":53.5,"v":0.02},{"t":54,"v":-0.02},{"t":54.5,"v":0.01},{"t":55,"v":0.02},{"t":55.5,"v":-0.01},{"t":56,"v":0.02},{"t":56.5,"v":-0.02},{"t":57,"v":0.01},{"t":57.5,"v":0.02},{"t":58,"v":-0.01},{"t":58.5,"v":0.02},{"t":59,"v":-0.02},{"t":59.5,"v":0.01},{"t":60,"v":0.02}],
"LAGB":[{"t":0,"v":0.02},{"t":0.25,"v":0.06},{"t":0.5,"v":-0.02},{"t":0.75,"v":-0.08},{"t":1,"v":-0.04},{"t":1.25,"v":0.05},{"t":1.5,"v":0.09},{"t":1.75,"v":0.03},{"t":2,"v":-0.05},{"t":2.25,"v":-0.1},{"t":2.5,"v":-0.03},{"t":2.75,"v":0.04},{"t":3,"v":0.08},{"t":3.25,"v":0.02},{"t":3.5,"v":-0.06},{"t":3.75,"v":-0.04},{"t":4,"v":0.03},{"t":4.25,"v":0.1},{"t":4.5,"v":0.04},{"t":4.75,"v":-0.07},{"t":5,"v":-0.09},{"t":5.25,"v":-0.02},{"t":5.5,"v":0.05},{"t":5.75,"v":0.07},{"t":6,"v":0.01},{"t":6.25,"v":-0.06},{"t":6.5,"v":-0.08},{"t":6.75,"v":0.02},{"t":7,"v":0.09},{"t":7.25,"v":0.05},{"t":7.5,"v":-0.04},{"t":7.75,"v":-0.1},{"t":8,"v":-0.03},{"t":8.25,"v":0.06},{"t":8.5,"v":0.08},{"t":8.75,"v":0},{"t":9,"v":-0.07},{"t":9.25,"v":-0.05},{"t":9.5,"v":0.03},{"t":9.75,"v":0.09},{"t":10,"v":0.04},{"t":10.25,"v":-0.05},{"t":10.5,"v":-0.08},{"t":10.75,"v":-0.01},{"t":11,"v":0.06},{"t":11.25,"v":0.1},{"t":11.5,"v":0.02},{"t":11.75,"v":-0.06},{"t":12,"v":-0.09},{"t":12.25,"v":0},{"t":12.5,"v":0.07},{"t":12.75,"v":0.05},{"t":13,"v":-0.03},{"t":13.25,"v":-0.08},{"t":13.5,"v":-0.04},{"t":13.75,"v":0.04},{"t":14,"v":0.09},{"t":14.25,"v":0.03},{"t":14.5,"v":-0.05},{"t":14.75,"v":-0.1},{"t":15,"v":-0.02},{"t":15.25,"v":0.06},{"t":15.5,"v":0.08},{"t":15.75,"v":0.01},{"t":16,"v":-0.07},{"t":16.25,"v":-0.06},{"t":16.5,"v":0.03},{"t":16.75,"v":0.1},{"t":17,"v":0.05},{"t":17.25,"v":-0.04},{"t":17.5,"v":-0.09},{"t":17.75,"v":-0.02},{"t":18,"v":0.05},{"t":18.25,"v":0.08},{"t":18.5,"v":0},{"t":18.75,"v":-0.07},{"t":19,"v":-0.05},{"t":19.25,"v":0.04},{"t":19.5,"v":0.09},{"t":19.75,"v":0.03},{"t":20,"v":-0.06},{"t":20.25,"v":-0.08},{"t":20.5,"v":0.01},{"t":20.75,"v":0.07},{"t":21,"v":0.05},{"t":21.25,"v":-0.04},{"t":21.5,"v":-0.06},
{"t":21.6,"v":0.35},{"t":21.7,"v":-0.45},{"t":21.8,"v":0.4},{"t":21.9,"v":-0.5},{"t":22,"v":0.45},{"t":22.1,"v":-0.35},{"t":22.2,"v":0.4},{"t":22.3,"v":-0.3},{"t":22.4,"v":0.35},{"t":22.5,"v":-0.28},{"t":22.6,"v":0.3},{"t":22.7,"v":-0.35},{"t":22.8,"v":0.25},{"t":22.9,"v":-0.3},{"t":23,"v":0.28},{"t":23.1,"v":-0.25},{"t":23.2,"v":0.3},{"t":23.3,"v":-0.32},{"t":23.4,"v":0.35},{"t":23.5,"v":-0.3},{"t":23.6,"v":0.38},{"t":23.7,"v":-0.4},{"t":23.8,"v":0.3},{"t":23.9,"v":-0.45},{"t":24,"v":0.5},{"t":24.1,"v":-0.55},{"t":24.2,"v":0.6},{"t":24.3,"v":-0.65},{"t":24.4,"v":0.72},{"t":24.5,"v":-0.88},{"t":24.6,"v":0.85},{"t":24.7,"v":-0.92},{"t":24.8,"v":0.95},{"t":24.9,"v":-0.7},{"t":25,"v":0.6},{"t":25.1,"v":-0.75},{"t":25.2,"v":0.8},{"t":25.3,"v":-0.55},{"t":25.4,"v":0.5},{"t":25.5,"v":-0.85},{"t":25.6,"v":0.75},{"t":25.7,"v":-0.6},{"t":25.8,"v":0.55},{"t":25.9,"v":-0.45},{"t":26,"v":0.65},{"t":26.1,"v":-0.72},{"t":26.2,"v":0.6},{"t":26.3,"v":-0.35},{"t":26.4,"v":0.3},{"t":26.5,"v":-0.25},{"t":26.6,"v":0.22},{"t":26.7,"v":-0.3},{"t":26.8,"v":0.2},{"t":26.9,"v":-0.22},{"t":27,"v":0.25},
{"t":27.2,"v":-0.28},{"t":27.4,"v":0.3},{"t":27.6,"v":-0.2},{"t":27.8,"v":0.25},{"t":28,"v":-0.3},{"t":28.2,"v":0.22},{"t":28.4,"v":-0.18},{"t":28.6,"v":0.25},{"t":28.8,"v":-0.2},{"t":29,"v":0.28},{"t":29.2,"v":-0.15},{"t":29.4,"v":0.2},{"t":29.6,"v":-0.22},{"t":29.8,"v":0.18},{"t":30,"v":-0.25},{"t":30.2,"v":0.15},{"t":30.4,"v":-0.18},{"t":30.6,"v":0.2},{"t":30.8,"v":-0.15},{"t":31,"v":0.18},{"t":31.2,"v":-0.2},{"t":31.4,"v":0.14},{"t":31.6,"v":-0.16},{"t":31.8,"v":0.12},{"t":32,"v":-0.15},{"t":32.2,"v":0.13},{"t":32.4,"v":-0.12},{"t":32.6,"v":0.14},{"t":32.8,"v":-0.1},
{"t":33.25,"v":0.1},{"t":33.5,"v":0.04},{"t":33.75,"v":-0.07},{"t":34,"v":-0.1},{"t":34.25,"v":-0.02},{"t":34.5,"v":0.06},{"t":34.75,"v":0.09},{"t":35,"v":0.01},{"t":35.25,"v":-0.08},{"t":35.5,"v":-0.05},{"t":35.75,"v":0.04},{"t":36,"v":0.1},{"t":36.25,"v":0.03},{"t":36.5,"v":-0.06},{"t":36.75,"v":-0.09},{"t":37,"v":0},{"t":37.25,"v":0.07},{"t":37.5,"v":0.06},{"t":37.75,"v":-0.03},{"t":38,"v":-0.08},{"t":38.25,"v":-0.04},{"t":38.5,"v":0.05},{"t":38.75,"v":0.09},{"t":39,"v":0.02},{"t":39.25,"v":-0.07},{"t":39.5,"v":-0.06},{"t":39.75,"v":0.03},{"t":40,"v":0.08},{"t":40.25,"v":0.05},{"t":40.5,"v":-0.04},{"t":40.75,"v":-0.09},{"t":41,"v":-0.01},{"t":41.25,"v":0.06},{"t":41.5,"v":0.08},{"t":41.75,"v":0},{"t":42,"v":-0.07},{"t":42.25,"v":-0.05},{"t":42.5,"v":0.04},{"t":42.75,"v":0.09},{"t":43,"v":0.03},{"t":43.25,"v":-0.06},{"t":43.5,"v":-0.08},{"t":43.75,"v":0.01},{"t":44,"v":0.07},{"t":44.25,"v":0.06},{"t":44.5,"v":-0.03},{"t":44.75,"v":-0.09},{"t":45,"v":-0.03},{"t":45.25,"v":0.05},{"t":45.5,"v":0.08},{"t":45.75,"v":0.02},{"t":46,"v":-0.06},{"t":46.25,"v":-0.07},{"t":46.5,"v":0.02},{"t":46.75,"v":0.09},{"t":47,"v":0.04},{"t":47.25,"v":-0.05},{"t":47.5,"v":-0.08},{"t":47.75,"v":-0.01},{"t":48,"v":0.06},{"t":48.25,"v":0.07},{"t":48.5,"v":-0.01},{"t":48.75,"v":-0.08},{"t":49,"v":-0.04},{"t":49.25,"v":0.04},{"t":49.5,"v":0.09},{"t":49.75,"v":0.02},{"t":50,"v":-0.06},{"t":50.25,"v":-0.07},{"t":50.5,"v":0.02},{"t":50.75,"v":0.08},{"t":51,"v":0.05},{"t":51.25,"v":-0.04},{"t":51.5,"v":-0.09},{"t":51.75,"v":-0.02},{"t":52,"v":0.05},{"t":52.25,"v":0.08},{"t":52.5,"v":0.01},{"t":52.75,"v":-0.07},{"t":53,"v":-0.05},{"t":53.25,"v":0.03},{"t":53.5,"v":0.09},{"t":53.75,"v":0.04},{"t":54,"v":-0.05},{"t":54.25,"v":-0.08},{"t":54.5,"v":0},{"t":54.75,"v":0.07},{"t":55,"v":0.06},{"t":55.25,"v":-0.03},{"t":55.5,"v":-0.09},{"t":55.75,"v":-0.03},{"t":56,"v":0.05},{"t":56.25,"v":0.1},{"t":56.5,"v":0.02},{"t":56.75,"v":-0.06},{"t":57,"v":-0.07},{"t":57.25,"v":0.02},{"t":57.5,"v":0.08},{"t":57.75,"v":0.04},{"t":58,"v":-0.05},{"t":58.25,"v":-0.08},{"t":58.5,"v":-0.01},{"t":58.75,"v":0.07},{"t":59,"v":0.06},{"t":59.25,"v":-0.03},{"t":59.5,"v":-0.08},{"t":59.75,"v":-0.02},{"t":60,"v":0.04}],
"GLOK":[{"t":0,"v":0.02},{"t":0.5,"v":-0.03},{"t":1,"v":0.03},{"t":1.5,"v":-0.02},{"t":2,"v":0.02},{"t":2.5,"v":-0.03},{"t":3,"v":0.03},{"t":3.5,"v":-0.02},{"t":4,"v":0.02},{"t":4.5,"v":0.01},{"t":5,"v":-0.03},{"t":5.5,"v":0.02},{"t":6,"v":-0.02},{"t":6.5,"v":0.03},{"t":7,"v":-0.02},{"t":7.5,"v":0.02},{"t":8,"v":-0.03},{"t":8.5,"v":0.02},{"t":9,"v":0.02},{"t":9.5,"v":-0.02},{"t":10,"v":0.03},{"t":10.5,"v":-0.03},{"t":11,"v":0.02},{"t":11.5,"v":-0.02},{"t":12,"v":0.03},{"t":12.5,"v":-0.02},{"t":13,"v":0.02},{"t":13.5,"v":-0.03},{"t":14,"v":0.02},{"t":14.5,"v":0.02},{"t":15,"v":-0.03},{"t":15.5,"v":0.03},{"t":16,"v":-0.02},{"t":16.5,"v":0.02},{"t":17,"v":-0.02},{"t":17.5,"v":0.03},{"t":18,"v":-0.03},{"t":18.5,"v":0.02},{"t":19,"v":-0.02},{"t":19.5,"v":0.02},{"t":20,"v":-0.03},{"t":20.5,"v":0.02},{"t":21,"v":-0.02},{"t":21.5,"v":0.03},
{"t":21.6,"v":0.68},{"t":21.7,"v":-0.88},{"t":21.8,"v":0.5},{"t":21.9,"v":-0.4},{"t":22,"v":0.35},{"t":22.1,"v":-0.3},{"t":22.2,"v":0.3},{"t":22.3,"v":-0.25},{"t":22.4,"v":0.28},{"t":22.5,"v":-0.3},{"t":22.6,"v":0.25},{"t":22.7,"v":-0.22},{"t":22.8,"v":0.3},{"t":22.9,"v":-0.28},{"t":23,"v":0.25},{"t":23.1,"v":-0.3},{"t":23.2,"v":0.35},{"t":23.3,"v":-0.25},{"t":23.4,"v":0.3},{"t":23.5,"v":-0.35},{"t":23.6,"v":0.4},{"t":23.7,"v":-0.3},{"t":23.8,"v":0.35},{"t":23.9,"v":-0.45},{"t":24,"v":0.5},{"t":24.1,"v":0.82},{"t":24.2,"v":-0.93},{"t":24.3,"v":0.6},{"t":24.4,"v":-0.5},{"t":24.5,"v":0.45},{"t":24.6,"v":-0.4},{"t":24.7,"v":0.35},{"t":24.8,"v":-0.42},{"t":24.9,"v":0.38},{"t":25,"v":-0.35},{"t":25.1,"v":0.4},{"t":25.2,"v":-0.3},{"t":25.3,"v":0.28},{"t":25.4,"v":-0.32},{"t":25.5,"v":0.25},{"t":25.6,"v":-0.22},{"t":25.7,"v":0.28},{"t":25.8,"v":-0.2},{"t":25.9,"v":0.22},{"t":26,"v":-0.25},{"t":26.1,"v":0.2},{"t":26.2,"v":-0.18},{"t":26.3,"v":0.15},{"t":26.4,"v":-0.2},{"t":26.5,"v":0.15},
{"t":26.7,"v":-0.15},{"t":26.9,"v":0.18},{"t":27.1,"v":-0.12},{"t":27.3,"v":0.14},{"t":27.5,"v":-0.16},{"t":27.7,"v":0.12},{"t":27.9,"v":-0.1},{"t":28.1,"v":0.13},{"t":28.3,"v":-0.11},{"t":28.5,"v":0.09},{"t":28.7,"v":-0.12},{"t":28.9,"v":0.08},{"t":29.1,"v":-0.1},{"t":29.3,"v":0.07},{"t":29.5,"v":-0.08},{"t":29.7,"v":0.09},{"t":29.9,"v":-0.06},{"t":30.1,"v":0.07},{"t":30.3,"v":-0.05},{"t":30.5,"v":0.06},{"t":30.7,"v":-0.05},{"t":30.9,"v":0.04},
{"t":31.5,"v":-0.03},{"t":32,"v":0.03},{"t":32.5,"v":-0.02},{"t":33,"v":0.02},{"t":33.5,"v":-0.03},{"t":34,"v":0.02},{"t":34.5,"v":0.01},{"t":35,"v":-0.02},{"t":35.5,"v":0.03},{"t":36,"v":-0.02},{"t":36.5,"v":0.02},{"t":37,"v":-0.03},{"t":37.5,"v":0.02},{"t":38,"v":0.02},{"t":38.5,"v":-0.02},{"t":39,"v":0.03},{"t":39.5,"v":-0.02},{"t":40,"v":0.02},{"t":40.5,"v":-0.02},{"t":41,"v":0.03},{"t":41.5,"v":-0.02},{"t":42,"v":0.01},{"t":42.5,"v":0.02},{"t":43,"v":-0.03},{"t":43.5,"v":0.02},{"t":44,"v":-0.02},{"t":44.5,"v":0.02},{"t":45,"v":0.01},{"t":45.5,"v":-0.02},{"t":46,"v":0.03},{"t":46.5,"v":-0.02},{"t":47,"v":0.02},{"t":47.5,"v":-0.03},{"t":48,"v":0.02},{"t":48.5,"v":0.02},{"t":49,"v":-0.02},{"t":49.5,"v":0.03},{"t":50,"v":-0.02},{"t":50.5,"v":0.02},{"t":51,"v":-0.02},{"t":51.5,"v":0.03},{"t":52,"v":-0.02},{"t":52.5,"v":0.01},{"t":53,"v":0.02},{"t":53.5,"v":-0.03},{"t":54,"v":0.02},{"t":54.5,"v":-0.02},{"t":55,"v":0.02},{"t":55.5,"v":0.01},{"t":56,"v":-0.02},{"t":56.5,"v":0.03},{"t":57,"v":-0.02},{"t":57.5,"v":0.02},{"t":58,"v":-0.03},{"t":58.5,"v":0.02},{"t":59,"v":0.01},{"t":59.5,"v":-0.02},{"t":60,"v":0.02}],
"BGG":[{"t":0,"v":0},{"t":0.5,"v":0},{"t":1,"v":0.01},{"t":1.5,"v":0.02},{"t":2,"v":-0.01},{"t":2.5,"v":0},{"t":3,"v":0.01},{"t":3.5,"v":0},{"t":4,"v":0},{"t":4.5,"v":0.01},{"t":5,"v":0},{"t":5.5,"v":0},{"t":6,"v":0.01},{"t":6.5,"v":0},{"t":7,"v":0},{"t":7.5,"v":0.01},{"t":8,"v":-0.01},{"t":8.5,"v":0},{"t":9,"v":0},{"t":9.5,"v":0.01},{"t":10,"v":0},{"t":10.5,"v":0},{"t":11,"v":0},{"t":11.5,"v":0},{"t":12,"v":0.01},{"t":12.5,"v":0},{"t":13,"v":0},{"t":13.5,"v":0},{"t":14,"v":0},{"t":14.5,"v":0},{"t":15,"v":0},{"t":15.5,"v":0},{"t":16,"v":0},{"t":16.5,"v":0},{"t":17,"v":0},{"t":17.5,"v":0},{"t":18,"v":-0.01},{"t":18.5,"v":0.02},{"t":19,"v":0},{"t":19.5,"v":0},{"t":20,"v":0.01},{"t":20.5,"v":0},{"t":21,"v":0.02},{"t":21.5,"v":0},
{"t":21.6,"v":0.01},{"t":21.7,"v":-0.02},{"t":21.8,"v":0.1},{"t":21.9,"v":0.35},{"t":22,"v":-0.74},{"t":22.1,"v":0.3},{"t":22.2,"v":-0.2},{"t":22.3,"v":0.15},{"t":22.4,"v":-0.12},{"t":22.5,"v":0.18},{"t":22.6,"v":-0.15},{"t":22.7,"v":0.12},{"t":22.8,"v":-0.1},{"t":22.9,"v":0.15},{"t":23,"v":-0.12},{"t":23.1,"v":0.1},{"t":23.2,"v":-0.14},{"t":23.3,"v":0.12},{"t":23.4,"v":-0.1},{"t":23.5,"v":0.08},{"t":23.6,"v":-0.12},{"t":23.7,"v":0.15},{"t":23.8,"v":-0.1},{"t":23.9,"v":0.2},{"t":24,"v":-0.25},{"t":24.1,"v":0.3},{"t":24.2,"v":-0.35},{"t":24.3,"v":0.92},{"t":24.4,"v":-0.74},{"t":24.5,"v":0.45},{"t":24.6,"v":-0.4},{"t":24.7,"v":0.35},{"t":24.8,"v":-0.3},{"t":24.9,"v":0.32},{"t":25,"v":-0.25},{"t":25.1,"v":0.28},{"t":25.2,"v":-0.22},{"t":25.3,"v":0.2},{"t":25.4,"v":-0.25},{"t":25.5,"v":0.18},{"t":25.6,"v":-0.2},{"t":25.7,"v":0.15},{"t":25.8,"v":-0.18},{"t":25.9,"v":0.12},{"t":26,"v":-0.15},
{"t":26.2,"v":0.12},{"t":26.4,"v":-0.1},{"t":26.6,"v":0.14},{"t":26.8,"v":-0.08},{"t":27,"v":0.1},{"t":27.2,"v":-0.12},{"t":27.4,"v":0.08},{"t":27.6,"v":-0.07},{"t":27.8,"v":0.09},{"t":28,"v":-0.06},{"t":28.2,"v":0.07},{"t":28.4,"v":-0.05},{"t":28.6,"v":0.06},{"t":28.8,"v":-0.04},{"t":29,"v":0.05},{"t":29.2,"v":-0.04},{"t":29.4,"v":0.03},{"t":29.6,"v":-0.04},{"t":29.8,"v":0.02},
{"t":30.5,"v":0.02},{"t":31,"v":-0.02},{"t":31.5,"v":0.01},{"t":32,"v":0.02},{"t":32.5,"v":-0.01},{"t":33,"v":0.02},{"t":33.5,"v":-0.02},{"t":34,"v":0.01},{"t":34.5,"v":0},{"t":35,"v":0.02},{"t":35.5,"v":-0.01},{"t":36,"v":0},{"t":36.5,"v":0.01},{"t":37,"v":0},{"t":37.5,"v":0.02},{"t":38,"v":-0.01},{"t":38.5,"v":0},{"t":39,"v":0.01},{"t":39.5,"v":0},{"t":40,"v":-0.01},{"t":40.5,"v":0.01},{"t":41,"v":0},{"t":41.5,"v":0},{"t":42,"v":0.01},{"t":42.5,"v":0},{"t":43,"v":-0.01},{"t":43.5,"v":0.01},{"t":44,"v":0},{"t":44.5,"v":0},{"t":45,"v":0.01},{"t":45.5,"v":0},{"t":46,"v":0},{"t":46.5,"v":0.01},{"t":47,"v":-0.01},{"t":47.5,"v":0},{"t":48,"v":0.01},{"t":48.5,"v":0},{"t":49,"v":0},{"t":49.5,"v":0.01},{"t":50,"v":0},{"t":50.5,"v":-0.01},{"t":51,"v":0},{"t":51.5,"v":0.01},{"t":52,"v":0},{"t":52.5,"v":0},{"t":53,"v":0.01},{"t":53.5,"v":0},{"t":54,"v":0},{"t":54.5,"v":0.01},{"t":55,"v":0},{"t":55.5,"v":0},{"t":56,"v":0.01},{"t":56.5,"v":0},{"t":57,"v":0},{"t":57.5,"v":0.01},{"t":58,"v":0},{"t":58.5,"v":0},{"t":59,"v":0.01},{"t":59.5,"v":0},{"t":60,"v":0}],
"BEDO":[{"t":0,"v":0.03},{"t":0.5,"v":-0.04},{"t":1,"v":0.02},{"t":1.5,"v":0.04},{"t":2,"v":-0.03},{"t":2.5,"v":0.02},{"t":3,"v":-0.04},{"t":3.5,"v":0.03},{"t":4,"v":0.02},{"t":4.5,"v":-0.03},{"t":5,"v":0.04},{"t":5.5,"v":-0.02},{"t":6,"v":0.03},{"t":6.5,"v":-0.04},{"t":7,"v":0.05},{"t":7.5,"v":-0.03},{"t":8,"v":0.02},{"t":8.5,"v":0.03},{"t":9,"v":-0.04},{"t":9.5,"v":0.02},{"t":10,"v":-0.03},{"t":10.5,"v":0.04},{"t":11,"v":-0.02},{"t":11.5,"v":0.03},{"t":12,"v":-0.03},{"t":12.5,"v":0.02},{"t":13,"v":0.04},{"t":13.5,"v":-0.03},{"t":14,"v":0.02},{"t":14.5,"v":-0.04},{"t":15,"v":0.03},{"t":15.5,"v":-0.02},{"t":16,"v":0.04},{"t":16.5,"v":-0.03},{"t":17,"v":0.02},{"t":17.5,"v":-0.03},{"t":18,"v":0.04},{"t":18.5,"v":-0.02},{"t":19,"v":0.03},{"t":19.5,"v":-0.04},{"t":20,"v":0.02},{"t":20.5,"v":0.03},{"t":21,"v":-0.03},{"t":21.5,"v":0.05},
{"t":21.6,"v":0.2},{"t":21.7,"v":-0.2},{"t":21.8,"v":0.15},{"t":21.9,"v":-0.18},{"t":22,"v":0.12},{"t":22.1,"v":-0.15},{"t":22.2,"v":0.18},{"t":22.3,"v":-0.12},{"t":22.4,"v":0.1},{"t":22.5,"v":-0.14},{"t":22.6,"v":0.12},{"t":22.7,"v":-0.1},{"t":22.8,"v":0.13},{"t":22.9,"v":-0.15},{"t":23,"v":0.1},{"t":23.1,"v":-0.12},{"t":23.2,"v":0.15},{"t":23.3,"v":-0.18},{"t":23.4,"v":0.2},{"t":23.5,"v":-0.22},{"t":23.6,"v":0.25},{"t":23.7,"v":-0.3},{"t":23.8,"v":0.28},{"t":23.9,"v":-0.35},{"t":24,"v":0.45},{"t":24.1,"v":-0.4},{"t":24.2,"v":0.5},{"t":24.3,"v":-0.55},{"t":24.4,"v":0.48},{"t":24.5,"v":-0.6},{"t":24.6,"v":0.7},{"t":24.7,"v":-0.65},{"t":24.8,"v":0.55},{"t":24.9,"v":-0.75},{"t":25,"v":0.68},{"t":25.1,"v":-0.93},{"t":25.2,"v":0.6},{"t":25.3,"v":-0.55},{"t":25.4,"v":0.5},{"t":25.5,"v":-0.6},{"t":25.6,"v":0.55},{"t":25.7,"v":-0.45},{"t":25.8,"v":0.5},{"t":25.9,"v":-0.4},{"t":26,"v":0.45},{"t":26.1,"v":-0.35},{"t":26.2,"v":0.3},{"t":26.3,"v":-0.38},{"t":26.4,"v":0.25},{"t":26.5,"v":-0.3},{"t":26.6,"v":0.28},{"t":26.7,"v":-0.22},{"t":26.8,"v":0.2},{"t":26.9,"v":-0.25},{"t":27,"v":0.18},
{"t":27.2,"v":-0.2},{"t":27.4,"v":0.18},{"t":27.6,"v":-0.15},{"t":27.8,"v":0.2},{"t":28,"v":-0.14},{"t":28.2,"v":0.12},{"t":28.4,"v":-0.15},{"t":28.6,"v":0.1},{"t":28.8,"v":-0.12},{"t":29,"v":0.1},{"t":29.2,"v":-0.09},{"t":29.4,"v":0.1},{"t":29.6,"v":-0.08},{"t":29.8,"v":0.07},{"t":30,"v":-0.08},{"t":30.2,"v":0.06},{"t":30.4,"v":-0.07},{"t":30.6,"v":0.05},{"t":30.8,"v":-0.06},
{"t":31.5,"v":0.04},{"t":32,"v":-0.03},{"t":32.5,"v":0.03},{"t":33,"v":-0.04},{"t":33.5,"v":0.02},{"t":34,"v":0.03},{"t":34.5,"v":-0.03},{"t":35,"v":0.02},{"t":35.5,"v":-0.04},{"t":36,"v":0.03},{"t":36.5,"v":-0.02},{"t":37,"v":0.03},{"t":37.5,"v":-0.03},{"t":38,"v":0.02},{"t":38.5,"v":0.04},{"t":39,"v":-0.03},{"t":39.5,"v":0.02},{"t":40,"v":-0.03},{"t":40.5,"v":0.03},{"t":41,"v":-0.02},{"t":41.5,"v":0.04},{"t":42,"v":-0.03},{"t":42.5,"v":0.02},{"t":43,"v":-0.02},{"t":43.5,"v":0.03},{"t":44,"v":-0.03},{"t":44.5,"v":0.02},{"t":45,"v":0.03},{"t":45.5,"v":-0.03},{"t":46,"v":0.02},{"t":46.5,"v":-0.04},{"t":47,"v":0.03},{"t":47.5,"v":-0.02},{"t":48,"v":0.03},{"t":48.5,"v":-0.03},{"t":49,"v":0.02},{"t":49.5,"v":0.02},{"t":50,"v":-0.03},{"t":50.5,"v":0.03},{"t":51,"v":-0.02},{"t":51.5,"v":0.02},{"t":52,"v":-0.03},{"t":52.5,"v":0.02},{"t":53,"v":0.03},{"t":53.5,"v":-0.02},{"t":54,"v":0.08},{"t":54.5,"v":-0.06},{"t":55,"v":0.05},{"t":55.5,"v":-0.03},{"t":56,"v":0.02},{"t":56.5,"v":0.03},{"t":57,"v":-0.03},{"t":57.5,"v":0.02},{"t":58,"v":-0.02},{"t":58.5,"v":0.03},{"t":59,"v":-0.02},{"t":59.5,"v":0.02},{"t":60,"v":-0.03}],
"RHEN":[{"t":0,"v":0},{"t":0.5,"v":0.01},{"t":1,"v":0},{"t":1.5,"v":0},{"t":2,"v":0.01},{"t":2.5,"v":0},{"t":3,"v":0},{"t":3.5,"v":0.02},{"t":4,"v":0},{"t":4.5,"v":0},{"t":5,"v":0},{"t":5.5,"v":0},{"t":6,"v":0.01},{"t":6.5,"v":0},{"t":7,"v":0},{"t":7.5,"v":0},{"t":8,"v":0.01},{"t":8.5,"v":0},{"t":9,"v":0},{"t":9.5,"v":0},{"t":10,"v":0},{"t":10.5,"v":0.01},{"t":11,"v":0},{"t":11.5,"v":0},{"t":12,"v":0},{"t":12.5,"v":0},{"t":13,"v":0},{"t":13.5,"v":0.01},{"t":14,"v":0},{"t":14.5,"v":0},{"t":15,"v":0},{"t":15.5,"v":0},{"t":16,"v":0},{"t":16.5,"v":0},{"t":17,"v":0},{"t":17.5,"v":0},{"t":18,"v":0},{"t":18.5,"v":0},{"t":19,"v":0},{"t":19.5,"v":0},{"t":20,"v":0},{"t":20.5,"v":0},{"t":21,"v":0},{"t":21.5,"v":0},
{"t":21.6,"v":0},{"t":21.7,"v":0.01},{"t":21.8,"v":0.05},{"t":21.9,"v":0.4},{"t":22,"v":0.92},{"t":22.1,"v":-0.52},{"t":22.2,"v":0.3},{"t":22.3,"v":-0.25},{"t":22.4,"v":0.22},{"t":22.5,"v":-0.18},{"t":22.6,"v":0.2},{"t":22.7,"v":-0.15},{"t":22.8,"v":0.18},{"t":22.9,"v":-0.12},{"t":23,"v":0.15},{"t":23.1,"v":-0.18},{"t":23.2,"v":0.12},{"t":23.3,"v":-0.1},{"t":23.4,"v":0.14},{"t":23.5,"v":-0.12},{"t":23.6,"v":0.1},{"t":23.7,"v":-0.13},{"t":23.8,"v":0.15},{"t":23.9,"v":-0.1},{"t":24,"v":0.12},{"t":24.1,"v":-0.15},{"t":24.2,"v":0.2},{"t":24.3,"v":-0.25},{"t":24.4,"v":0.3},{"t":24.5,"v":0.56},{"t":24.6,"v":-0.82},{"t":24.7,"v":0.4},{"t":24.8,"v":-0.35},{"t":24.9,"v":0.3},{"t":25,"v":-0.25},{"t":25.1,"v":0.45},{"t":25.2,"v":-0.3},{"t":25.3,"v":0.35},{"t":25.4,"v":-0.28},{"t":25.5,"v":0.25},{"t":25.6,"v":-0.3},{"t":25.7,"v":0.22},{"t":25.8,"v":-0.25},{"t":25.9,"v":0.2},{"t":26,"v":-0.22},{"t":26.1,"v":0.25},{"t":26.2,"v":-0.2},{"t":26.3,"v":0.18},{"t":26.4,"v":-0.25},{"t":26.5,"v":0.15},
{"t":26.7,"v":-0.18},{"t":26.9,"v":0.2},{"t":27.1,"v":-0.15},{"t":27.3,"v":0.18},{"t":27.5,"v":-0.14},{"t":27.7,"v":0.15},{"t":27.9,"v":-0.12},{"t":28.1,"v":0.1},{"t":28.3,"v":-0.12},{"t":28.5,"v":0.09},{"t":28.7,"v":-0.08},{"t":28.9,"v":0.1},{"t":29.1,"v":-0.07},{"t":29.3,"v":0.08},{"t":29.5,"v":-0.06},{"t":29.7,"v":0.05},{"t":29.9,"v":-0.06},
{"t":30.5,"v":0.04},{"t":31,"v":-0.03},{"t":31.5,"v":0.03},{"t":32,"v":-0.02},{"t":32.5,"v":0.02},{"t":33,"v":-0.02},{"t":33.5,"v":0.02},{"t":34,"v":-0.01},{"t":34.5,"v":0.02},{"t":35,"v":-0.02},{"t":35.5,"v":0.01},{"t":36,"v":0.02},{"t":36.5,"v":-0.01},{"t":37,"v":0.01},{"t":37.5,"v":0.02},{"t":38,"v":-0.01},{"t":38.5,"v":0.01},{"t":39,"v":0},{"t":39.5,"v":0.01},{"t":40,"v":-0.01},{"t":40.5,"v":0.01},{"t":41,"v":0},{"t":41.5,"v":0.01},{"t":42,"v":0},{"t":42.5,"v":0.01},{"t":43,"v":0},{"t":43.5,"v":0.01},{"t":44,"v":0},{"t":44.5,"v":0},{"t":45,"v":0.01},{"t":45.5,"v":0},{"t":46,"v":0},{"t":46.5,"v":0.01},{"t":47,"v":0},{"t":47.5,"v":0},{"t":48,"v":0},{"t":48.5,"v":0.01},{"t":49,"v":0},{"t":49.5,"v":0},{"t":50,"v":0},{"t":50.5,"v":0.01},{"t":51,"v":0},{"t":51.5,"v":0},{"t":52,"v":0.01},{"t":52.5,"v":0},{"t":53,"v":0},{"t":53.5,"v":0},{"t":54,"v":0.01},{"t":54.5,"v":0},{"t":55,"v":0},{"t":55.5,"v":0},{"t":56,"v":0},{"t":56.5,"v":0.01},{"t":57,"v":0},{"t":57.5,"v":0},{"t":58,"v":0},{"t":58.5,"v":0},{"t":59,"v":0.01},{"t":59.5,"v":0},{"t":60,"v":0}],
"BEMS":[{"t":0,"v":0},{"t":0.5,"v":0},{"t":1,"v":0.01},{"t":1.5,"v":0},{"t":2,"v":0},{"t":2.5,"v":0},{"t":3,"v":0},{"t":3.5,"v":0},{"t":4,"v":0.01},{"t":4.5,"v":0},{"t":5,"v":0},{"t":5.5,"v":0},{"t":6,"v":0},{"t":6.5,"v":0},{"t":7,"v":0},{"t":7.5,"v":0},{"t":8,"v":0},{"t":8.5,"v":0.01},{"t":9,"v":0},{"t":9.5,"v":0},{"t":10,"v":0},{"t":10.5,"v":0},{"t":11,"v":0},{"t":11.5,"v":0},{"t":12,"v":0},{"t":12.5,"v":0.01},{"t":13,"v":0},{"t":13.5,"v":0},{"t":14,"v":0},{"t":14.5,"v":0},{"t":15,"v":0},{"t":15.5,"v":0},{"t":16,"v":0.01},{"t":16.5,"v":0},{"t":17,"v":0},{"t":17.5,"v":0},{"t":18,"v":0},{"t":18.5,"v":0},{"t":19,"v":0},{"t":19.5,"v":0.01},{"t":20,"v":0},{"t":20.5,"v":-0.04},{"t":21,"v":0},{"t":21.5,"v":0},{"t":22,"v":0},{"t":22.5,"v":0.01},
{"t":22.6,"v":0},{"t":22.7,"v":0},{"t":22.8,"v":0.02},{"t":22.9,"v":0.3},{"t":23,"v":0.92},{"t":23.1,"v":-0.53},{"t":23.2,"v":0.25},{"t":23.3,"v":-0.45},{"t":23.4,"v":0.2},{"t":23.5,"v":-0.2},{"t":23.6,"v":0.15},{"t":23.7,"v":-0.12},{"t":23.8,"v":0.1},{"t":23.9,"v":-0.15},{"t":24,"v":0.12},{"t":24.1,"v":-0.08},{"t":24.2,"v":0.1},{"t":24.3,"v":-0.12},{"t":24.4,"v":0.06},{"t":24.5,"v":-0.08},{"t":24.6,"v":0.05},{"t":24.7,"v":-0.04},{"t":24.8,"v":0.03},{"t":24.9,"v":-0.05},{"t":25,"v":0.04},{"t":25.1,"v":-0.03},{"t":25.2,"v":0.02},{"t":25.3,"v":-0.03},{"t":25.4,"v":0.02},{"t":25.5,"v":-0.02},{"t":25.6,"v":0.03},{"t":25.7,"v":-0.04},{"t":25.8,"v":0.05},{"t":25.9,"v":-0.06},{"t":26,"v":0.08},{"t":26.1,"v":-0.1},{"t":26.2,"v":0.12},{"t":26.3,"v":-0.15},{"t":26.4,"v":0.2},{"t":26.5,"v":-0.22},{"t":26.6,"v":0.15},{"t":26.7,"v":-0.12},{"t":26.8,"v":0.14},{"t":26.9,"v":-0.1},{"t":27,"v":0.12},{"t":27.1,"v":-0.15},{"t":27.2,"v":0.18},{"t":27.3,"v":-0.2},{"t":27.4,"v":0.15},{"t":27.5,"v":-0.1},{"t":27.6,"v":0.12},{"t":27.7,"v":-0.08},{"t":27.8,"v":0.09},{"t":27.9,"v":-0.07},{"t":28,"v":0.06},
{"t":28.2,"v":-0.06},{"t":28.4,"v":0.05},{"t":28.6,"v":-0.04},{"t":28.8,"v":0.06},{"t":29,"v":-0.03},{"t":29.2,"v":0.04},{"t":29.4,"v":-0.05},{"t":29.6,"v":0.03},{"t":29.8,"v":-0.02},{"t":30,"v":0.03},{"t":30.2,"v":-0.02},{"t":30.4,"v":0.02},{"t":30.6,"v":-0.03},{"t":30.8,"v":0.02},{"t":31,"v":-0.01},{"t":31.2,"v":0.02},{"t":31.4,"v":-0.01},{"t":31.6,"v":0.01},{"t":31.8,"v":0},
{"t":32.5,"v":0.01},{"t":33,"v":0},{"t":33.5,"v":0.01},{"t":34,"v":-0.01},{"t":34.5,"v":0},{"t":35,"v":0.01},{"t":35.5,"v":0},{"t":36,"v":0},{"t":36.5,"v":0.01},{"t":37,"v":0},{"t":37.5,"v":-0.01},{"t":38,"v":0},{"t":38.5,"v":0.01},{"t":39,"v":0},{"t":39.5,"v":0},{"t":40,"v":0.01},{"t":40.5,"v":0},{"t":41,"v":0},{"t":41.5,"v":0},{"t":42,"v":0.01},{"t":42.5,"v":0},{"t":43,"v":0},{"t":43.5,"v":0},{"t":44,"v":0},{"t":44.5,"v":0.01},{"t":45,"v":0},{"t":45.5,"v":0},{"t":46,"v":0},{"t":46.5,"v":0.01},{"t":47,"v":0},{"t":47.5,"v":0},{"t":48,"v":0},{"t":48.5,"v":0},{"t":49,"v":0.01},{"t":49.5,"v":0},{"t":50,"v":0},{"t":50.5,"v":0},{"t":51,"v":0.01},{"t":51.5,"v":0},{"t":52,"v":0},{"t":52.5,"v":0},{"t":53,"v":0},{"t":53.5,"v":0.01},{"t":54,"v":0},{"t":54.5,"v":0},{"t":55,"v":0},{"t":55.5,"v":0},{"t":56,"v":0.01},{"t":56.5,"v":0},{"t":57,"v":0},{"t":57.5,"v":0},{"t":58,"v":0.01},{"t":58.5,"v":0},{"t":59,"v":0},{"t":59.5,"v":0},{"t":60,"v":0}],
"KOE":[{"t":0,"v":0.02},{"t":0.5,"v":-0.03},{"t":1,"v":0.04},{"t":1.5,"v":-0.02},{"t":2,"v":0.03},{"t":2.5,"v":-0.04},{"t":3,"v":0.02},{"t":3.5,"v":0.04},{"t":4,"v":-0.03},{"t":4.5,"v":0.02},{"t":5,"v":-0.04},{"t":5.5,"v":0.03},{"t":6,"v":0.05},{"t":6.5,"v":-0.02},{"t":7,"v":0.03},{"t":7.5,"v":-0.04},{"t":8,"v":0.02},{"t":8.5,"v":0.03},{"t":9,"v":-0.03},{"t":9.5,"v":0.02},{"t":10,"v":-0.04},{"t":10.5,"v":0.04},{"t":11,"v":-0.02},{"t":11.5,"v":0.03},{"t":12,"v":-0.03},{"t":12.5,"v":0.02},{"t":13,"v":0.04},{"t":13.5,"v":-0.03},{"t":14,"v":0.02},{"t":14.5,"v":-0.02},{"t":15,"v":0.03},{"t":15.5,"v":-0.04},{"t":16,"v":0.02},{"t":16.5,"v":0.03},{"t":17,"v":-0.03},{"t":17.5,"v":0.02},{"t":18,"v":-0.02},{"t":18.5,"v":0.03},{"t":19,"v":-0.03},{"t":19.5,"v":0.02},{"t":20,"v":0.04},{"t":20.5,"v":-0.03},{"t":21,"v":0.02},{"t":21.5,"v":-0.02},{"t":22,"v":0.03},{"t":22.5,"v":-0.02},
{"t":22.6,"v":0.02},{"t":22.7,"v":-0.03},{"t":22.8,"v":0.3},{"t":22.9,"v":0.97},{"t":23,"v":-0.57},{"t":23.1,"v":0.35},{"t":23.2,"v":-0.4},{"t":23.3,"v":0.25},{"t":23.4,"v":-0.3},{"t":23.5,"v":0.3},{"t":23.6,"v":-0.2},{"t":23.7,"v":0.22},{"t":23.8,"v":-0.25},{"t":23.9,"v":0.2},{"t":24,"v":-0.18},{"t":24.1,"v":0.22},{"t":24.2,"v":-0.15},{"t":24.3,"v":0.2},{"t":24.4,"v":-0.22},{"t":24.5,"v":0.18},{"t":24.6,"v":-0.2},{"t":24.7,"v":0.15},{"t":24.8,"v":-0.18},{"t":24.9,"v":0.2},{"t":25,"v":-0.15},{"t":25.1,"v":0.18},{"t":25.2,"v":-0.2},{"t":25.3,"v":0.15},{"t":25.4,"v":-0.18},{"t":25.5,"v":0.22},{"t":25.6,"v":-0.25},{"t":25.7,"v":0.3},{"t":25.8,"v":-0.4},{"t":25.9,"v":0.55},{"t":26,"v":-0.5},{"t":26.1,"v":0.72},{"t":26.2,"v":-0.85},{"t":26.3,"v":0.6},{"t":26.4,"v":-0.55},{"t":26.5,"v":0.45},{"t":26.6,"v":-0.4},{"t":26.7,"v":0.35},{"t":26.8,"v":-0.45},{"t":26.9,"v":0.4},{"t":27,"v":-0.3},{"t":27.1,"v":0.35},{"t":27.2,"v":-0.4},{"t":27.3,"v":0.3},{"t":27.4,"v":-0.25},{"t":27.5,"v":0.28},{"t":27.6,"v":-0.35},{"t":27.7,"v":0.4},{"t":27.8,"v":0.7},{"t":27.9,"v":-0.45},{"t":28,"v":0.3},{"t":28.1,"v":-0.25},{"t":28.2,"v":0.2},{"t":28.3,"v":-0.28},{"t":28.4,"v":0.22},{"t":28.5,"v":-0.2},
{"t":28.7,"v":0.22},{"t":28.9,"v":-0.2},{"t":29.1,"v":0.25},{"t":29.3,"v":-0.18},{"t":29.5,"v":0.2},{"t":29.7,"v":-0.22},{"t":29.9,"v":0.15},{"t":30.1,"v":-0.18},{"t":30.3,"v":0.2},{"t":30.5,"v":-0.15},{"t":30.7,"v":0.12},{"t":30.9,"v":-0.16},{"t":31.1,"v":0.13},{"t":31.3,"v":-0.1},{"t":31.5,"v":0.14},{"t":31.7,"v":-0.12},{"t":31.9,"v":0.1},{"t":32.1,"v":-0.11},{"t":32.3,"v":0.08},{"t":32.5,"v":-0.1},{"t":32.7,"v":0.07},{"t":32.9,"v":-0.08},
{"t":33.5,"v":0.06},{"t":34,"v":-0.05},{"t":34.5,"v":0.04},{"t":35,"v":-0.06},{"t":35.5,"v":0.05},{"t":36,"v":-0.03},{"t":36.5,"v":0.04},{"t":37,"v":-0.05},{"t":37.5,"v":0.03},{"t":38,"v":-0.04},{"t":38.5,"v":0.05},{"t":39,"v":-0.03},{"t":39.5,"v":0.04},{"t":40,"v":-0.03},{"t":40.5,"v":0.03},{"t":41,"v":-0.04},{"t":41.5,"v":0.02},{"t":42,"v":0.03},{"t":42.5,"v":-0.03},{"t":43,"v":0.02},{"t":43.5,"v":-0.04},{"t":44,"v":0.03},{"t":44.5,"v":-0.02},{"t":45,"v":0.03},{"t":45.5,"v":-0.03},{"t":46,"v":0.02},{"t":46.5,"v":0.03},{"t":47,"v":-0.03},{"t":47.5,"v":0.02},{"t":48,"v":-0.02},{"t":48.5,"v":0.03},{"t":49,"v":-0.03},{"t":49.5,"v":0.02},{"t":50,"v":0.02},{"t":50.5,"v":-0.03},{"t":51,"v":0.03},{"t":51.5,"v":-0.02},{"t":52,"v":0.02},{"t":52.5,"v":-0.03},{"t":53,"v":0.02},{"t":53.5,"v":0.03},{"t":54,"v":-0.02},{"t":54.5,"v":0.02},{"t":55,"v":-0.03},{"t":55.5,"v":0.03},{"t":56,"v":-0.02},{"t":56.5,"v":0.02},{"t":57,"v":-0.03},{"t":57.5,"v":0.02},{"t":58,"v":0.03},{"t":58.5,"v":-0.02},{"t":59,"v":0.02},{"t":59.5,"v":-0.03},{"t":60,"v":0.02}],
"BEUR":[{"t":0,"v":0.02},{"t":0.5,"v":-0.03},{"t":1,"v":0.03},{"t":1.5,"v":-0.04},{"t":2,"v":0.02},{"t":2.5,"v":0.03},{"t":3,"v":-0.03},{"t":3.5,"v":0.04},{"t":4,"v":-0.02},{"t":4.5,"v":0.03},{"t":5,"v":-0.04},{"t":5.5,"v":0.02},{"t":6,"v":0.03},{"t":6.5,"v":-0.03},{"t":7,"v":0.02},{"t":7.5,"v":-0.04},{"t":8,"v":0.05},{"t":8.5,"v":-0.02},{"t":9,"v":0.03},{"t":9.5,"v":-0.03},{"t":10,"v":0.02},{"t":10.5,"v":0.04},{"t":11,"v":-0.03},{"t":11.5,"v":0.02},{"t":12,"v":-0.04},{"t":12.5,"v":0.03},{"t":13,"v":-0.02},{"t":13.5,"v":0.03},{"t":14,"v":-0.03},{"t":14.5,"v":0.04},{"t":15,"v":-0.02},{"t":15.5,"v":0.02},{"t":16,"v":-0.03},{"t":16.5,"v":0.03},{"t":17,"v":-0.02},{"t":17.5,"v":0.04},{"t":18,"v":-0.03},{"t":18.5,"v":0.02},{"t":19,"v":-0.03},{"t":19.5,"v":0.03},{"t":20,"v":0.02},{"t":20.5,"v":-0.03},{"t":21,"v":0.03},{"t":21.5,"v":-0.02},{"t":22,"v":0.03},{"t":22.5,"v":-0.03},{"t":23,"v":0.02},{"t":23.5,"v":-0.02},{"t":24,"v":0.03},{"t":24.5,"v":-0.02},
{"t":24.6,"v":0.05},{"t":24.7,"v":0.52},{"t":24.8,"v":-0.93},{"t":24.9,"v":0.4},{"t":25,"v":-0.3},{"t":25.1,"v":0.35},{"t":25.2,"v":-0.25},{"t":25.3,"v":0.3},{"t":25.4,"v":-0.22},{"t":25.5,"v":0.2},{"t":25.6,"v":-0.25},{"t":25.7,"v":0.18},{"t":25.8,"v":-0.2},{"t":25.9,"v":0.22},{"t":26,"v":-0.15},
{"t":26.2,"v":0.2},{"t":26.4,"v":-0.18},{"t":26.6,"v":0.15},{"t":26.8,"v":-0.22},{"t":27,"v":0.18},{"t":27.2,"v":-0.15},{"t":27.4,"v":0.2},{"t":27.6,"v":-0.17},{"t":27.8,"v":0.14},{"t":28,"v":-0.2},{"t":28.2,"v":0.22},{"t":28.4,"v":-0.18},{"t":28.6,"v":0.15},{"t":28.8,"v":-0.2},{"t":29,"v":0.25},{"t":29.2,"v":-0.22},{"t":29.4,"v":0.2},{"t":29.6,"v":-0.3},{"t":29.8,"v":0.28},{"t":30,"v":-0.25},{"t":30.2,"v":0.3},{"t":30.4,"v":-0.35},
{"t":30.5,"v":0.3},{"t":30.6,"v":-0.4},{"t":30.7,"v":0.35},{"t":30.8,"v":-0.3},{"t":30.9,"v":0.4},{"t":31,"v":-0.45},{"t":31.1,"v":0.5},{"t":31.2,"v":-0.4},{"t":31.3,"v":0.45},{"t":31.4,"v":-0.55},{"t":31.5,"v":0.6},{"t":31.6,"v":-0.5},{"t":31.7,"v":-0.87},{"t":31.8,"v":0.85},{"t":31.9,"v":-0.6},{"t":32,"v":0.55},{"t":32.1,"v":-0.5},{"t":32.2,"v":0.65},{"t":32.3,"v":-0.45},{"t":32.4,"v":0.4},{"t":32.5,"v":-0.52},{"t":32.6,"v":0.35},{"t":32.7,"v":-0.3},{"t":32.8,"v":0.38},{"t":32.9,"v":-0.25},{"t":33,"v":0.3},{"t":33.1,"v":-0.28},{"t":33.2,"v":0.22},{"t":33.3,"v":-0.3},{"t":33.4,"v":0.2},{"t":33.5,"v":-0.18},
{"t":33.7,"v":0.2},{"t":33.9,"v":-0.18},{"t":34.1,"v":0.22},{"t":34.3,"v":-0.15},{"t":34.5,"v":0.18},{"t":34.7,"v":-0.2},{"t":34.9,"v":0.14},{"t":35.1,"v":-0.15},{"t":35.3,"v":0.12},{"t":35.5,"v":-0.14},{"t":35.7,"v":0.1},{"t":35.9,"v":-0.12},{"t":36.1,"v":0.09},{"t":36.3,"v":-0.1},{"t":36.5,"v":0.08},{"t":36.7,"v":-0.07},{"t":36.9,"v":0.06},
{"t":37.5,"v":-0.05},{"t":38,"v":0.04},{"t":38.5,"v":-0.06},{"t":39,"v":0.05},{"t":39.5,"v":-0.03},{"t":40,"v":0.04},{"t":40.5,"v":-0.04},{"t":41,"v":0.03},{"t":41.5,"v":-0.05},{"t":42,"v":0.04},{"t":42.5,"v":-0.02},{"t":43,"v":0.03},{"t":43.5,"v":-0.04},{"t":44,"v":0.03},{"t":44.5,"v":-0.03},{"t":45,"v":0.04},{"t":45.5,"v":-0.02},{"t":46,"v":0.03},{"t":46.5,"v":-0.03},{"t":47,"v":0.02},{"t":47.5,"v":-0.03},{"t":48,"v":0.03},{"t":48.5,"v":-0.02},{"t":49,"v":0.03},{"t":49.5,"v":-0.02},{"t":50,"v":0.02},{"t":50.5,"v":-0.03},{"t":51,"v":0.02},{"t":51.5,"v":0.03},{"t":52,"v":-0.02},{"t":52.5,"v":0.02},{"t":53,"v":-0.03},{"t":53.5,"v":0.02},{"t":54,"v":-0.02},{"t":54.5,"v":0.03},{"t":55,"v":-0.02},{"t":55.5,"v":0.02},{"t":56,"v":-0.03},{"t":56.5,"v":0.02},{"t":57,"v":0.02},{"t":57.5,"v":-0.02},{"t":58,"v":0.03},{"t":58.5,"v":-0.02},{"t":59,"v":0.02},{"t":59.5,"v":-0.02},{"t":60,"v":0.03}],
"TRIT":[{"t":0,"v":0.04},{"t":0.25,"v":0.09},{"t":0.5,"v":0.02},{"t":0.75,"v":-0.08},{"t":1,"v":-0.12},{"t":1.25,"v":-0.03},{"t":1.5,"v":0.07},{"t":1.75,"v":0.11},{"t":2,"v":0.03},{"t":2.25,"v":-0.06},{"t":2.5,"v":-0.1},{"t":2.75,"v":-0.02},{"t":3,"v":0.09},{"t":3.25,"v":0.12},{"t":3.5,"v":0.01},{"t":3.75,"v":-0.09},{"t":4,"v":-0.11},{"t":4.25,"v":0.02},{"t":4.5,"v":0.1},{"t":4.75,"v":0.06},{"t":5,"v":-0.04},{"t":5.25,"v":-0.12},{"t":5.5,"v":-0.05},{"t":5.75,"v":0.06},{"t":6,"v":0.1},{"t":6.25,"v":0.03},{"t":6.5,"v":-0.07},{"t":6.75,"v":-0.1},{"t":7,"v":0},{"t":7.25,"v":0.11},{"t":7.5,"v":0.08},{"t":7.75,"v":-0.03},{"t":8,"v":-0.11},{"t":8.25,"v":-0.06},{"t":8.5,"v":0.05},{"t":8.75,"v":0.12},{"t":9,"v":0.04},{"t":9.25,"v":-0.08},{"t":9.5,"v":-0.09},{"t":9.75,"v":0.02},{"t":10,"v":0.1},{"t":10.25,"v":0.07},{"t":10.5,"v":-0.05},{"t":10.75,"v":-0.12},{"t":11,"v":-0.03},{"t":11.25,"v":0.08},{"t":11.5,"v":0.1},{"t":11.75,"v":0},{"t":12,"v":-0.09},{"t":12.25,"v":-0.07},{"t":12.5,"v":0.04},{"t":12.75,"v":0.11},{"t":13,"v":0.05},{"t":13.25,"v":-0.06},{"t":13.5,"v":-0.11},{"t":13.75,"v":-0.02},{"t":14,"v":0.08},{"t":14.25,"v":0.09},{"t":14.5,"v":-0.01},{"t":14.75,"v":-0.1},{"t":15,"v":-0.06},{"t":15.25,"v":0.05},{"t":15.5,"v":0.12},{"t":15.75,"v":0.03},{"t":16,"v":-0.07},{"t":16.25,"v":-0.1},{"t":16.5,"v":0.01},{"t":16.75,"v":0.09},{"t":17,"v":0.07},{"t":17.25,"v":-0.04},{"t":17.5,"v":-0.11},{"t":17.75,"v":-0.03},{"t":18,"v":0.07},{"t":18.25,"v":0.1},{"t":18.5,"v":0.02},{"t":18.75,"v":-0.08},{"t":19,"v":-0.08},{"t":19.25,"v":0.03},{"t":19.5,"v":0.1},{"t":19.75,"v":0.05},{"t":20,"v":-0.05},{"t":20.25,"v":-0.1},{"t":20.5,"v":-0.01},{"t":20.75,"v":0.08},{"t":21,"v":0.08},{"t":21.25,"v":-0.02},{"t":21.5,"v":-0.09},{"t":21.75,"v":-0.05},{"t":22,"v":0.05},{"t":22.25,"v":0.09},{"t":22.5,"v":0.02},{"t":22.75,"v":-0.07},{"t":23,"v":-0.07},{"t":23.25,"v":0.02},{"t":23.5,"v":0.08},{"t":23.75,"v":0.04},{"t":24,"v":-0.05},{"t":24.25,"v":-0.07},{"t":24.5,"v":0.01},{"t":24.75,"v":0.06},{"t":25,"v":0.03},{"t":25.25,"v":-0.04},{"t":25.5,"v":-0.03},
{"t":25.6,"v":0.7},{"t":25.7,"v":-0.93},{"t":25.8,"v":0.45},{"t":25.9,"v":-0.4},{"t":26,"v":0.35},{"t":26.1,"v":-0.3},{"t":26.2,"v":0.4},{"t":26.3,"v":-0.45},{"t":26.4,"v":0.3},{"t":26.5,"v":-0.25},{"t":26.6,"v":0.35},{"t":26.7,"v":-0.3},{"t":26.8,"v":0.25},{"t":26.9,"v":-0.3},{"t":27,"v":0.28},
{"t":27.2,"v":-0.25},{"t":27.4,"v":0.3},{"t":27.6,"v":-0.22},{"t":27.8,"v":0.25},{"t":28,"v":-0.3},{"t":28.2,"v":0.22},{"t":28.4,"v":-0.2},{"t":28.6,"v":0.28},{"t":28.8,"v":-0.25},{"t":29,"v":0.2},{"t":29.2,"v":-0.28},{"t":29.4,"v":0.25},{"t":29.6,"v":-0.22},{"t":29.8,"v":0.3},{"t":30,"v":-0.3},{"t":30.2,"v":0.25},{"t":30.4,"v":-0.35},{"t":30.6,"v":0.3},{"t":30.8,"v":-0.25},{"t":31,"v":0.35},{"t":31.2,"v":-0.3},{"t":31.4,"v":0.4},{"t":31.6,"v":-0.35},{"t":31.8,"v":0.3},{"t":32,"v":-0.4},{"t":32.2,"v":0.45},{"t":32.4,"v":-0.4},
{"t":32.5,"v":0.5},{"t":32.6,"v":-0.45},{"t":32.7,"v":0.55},{"t":32.8,"v":-0.6},{"t":32.9,"v":0.75},{"t":33,"v":-0.86},{"t":33.1,"v":0.6},{"t":33.2,"v":-0.5},{"t":33.3,"v":0.45},{"t":33.4,"v":-0.55},{"t":33.5,"v":0.93},{"t":33.6,"v":-0.85},{"t":33.7,"v":0.7},{"t":33.8,"v":-0.5},{"t":33.9,"v":0.55},{"t":34,"v":-0.6},{"t":34.1,"v":0.5},{"t":34.2,"v":-0.4},{"t":34.3,"v":0.45},{"t":34.4,"v":-0.35},{"t":34.5,"v":0.5},{"t":34.6,"v":-0.3},{"t":34.7,"v":0.35},{"t":34.8,"v":-0.28},{"t":34.9,"v":0.3},{"t":35,"v":-0.25},
{"t":35.2,"v":0.3},{"t":35.4,"v":-0.25},{"t":35.6,"v":0.28},{"t":35.8,"v":-0.3},{"t":36,"v":0.22},{"t":36.2,"v":-0.25},{"t":36.4,"v":0.2},{"t":36.6,"v":-0.22},{"t":36.8,"v":0.25},{"t":37,"v":-0.18},{"t":37.2,"v":0.2},{"t":37.4,"v":-0.22},{"t":37.6,"v":0.15},{"t":37.8,"v":-0.18},{"t":38,"v":0.2},{"t":38.2,"v":-0.15},{"t":38.4,"v":0.18},{"t":38.6,"v":-0.14},{"t":38.8,"v":0.16},{"t":39,"v":-0.12},{"t":39.2,"v":0.15},{"t":39.4,"v":-0.13},{"t":39.6,"v":0.12},{"t":39.8,"v":-0.14},
{"t":40.25,"v":0.1},{"t":40.5,"v":0.03},{"t":40.75,"v":-0.08},{"t":41,"v":-0.11},{"t":41.25,"v":-0.02},{"t":41.5,"v":0.07},{"t":41.75,"v":0.1},{"t":42,"v":0.02},{"t":42.25,"v":-0.07},{"t":42.5,"v":-0.09},{"t":42.75,"v":0.01},{"t":43,"v":0.1},{"t":43.25,"v":0.07},{"t":43.5,"v":-0.04},{"t":43.75,"v":-0.11},{"t":44,"v":-0.04},{"t":44.25,"v":0.06},{"t":44.5,"v":0.11},{"t":44.75,"v":0.03},{"t":45,"v":-0.07},{"t":45.25,"v":-0.1},{"t":45.5,"v":0},{"t":45.75,"v":0.09},{"t":46,"v":0.07},{"t":46.25,"v":-0.03},{"t":46.5,"v":-0.1},{"t":46.75,"v":-0.05},{"t":47,"v":0.05},{"t":47.25,"v":0.11},{"t":47.5,"v":0.04},{"t":47.75,"v":-0.06},{"t":48,"v":-0.1},{"t":48.25,"v":-0.01},{"t":48.5,"v":0.08},{"t":48.75,"v":0.08},{"t":49,"v":-0.02},{"t":49.25,"v":-0.1},{"t":49.5,"v":-0.06},{"t":49.75,"v":0.04},{"t":50,"v":0.11},{"t":50.25,"v":0.05},{"t":50.5,"v":-0.05},{"t":50.75,"v":-0.11},{"t":51,"v":-0.03},{"t":51.25,"v":0.07},{"t":51.5,"v":0.1},{"t":51.75,"v":0.01},{"t":52,"v":-0.08},{"t":52.25,"v":-0.08},{"t":52.5,"v":0.02},{"t":52.75,"v":0.1},{"t":53,"v":0.06},{"t":53.25,"v":-0.04},{"t":53.5,"v":-0.1},{"t":53.75,"v":-0.04},{"t":54,"v":0.06},{"t":54.25,"v":0.1},{"t":54.5,"v":0.02},{"t":54.75,"v":-0.07},{"t":55,"v":-0.09},{"t":55.25,"v":0},{"t":55.5,"v":0.09},{"t":55.75,"v":0.07},{"t":56,"v":-0.03},{"t":56.25,"v":-0.1},{"t":56.5,"v":-0.05},{"t":56.75,"v":0.05},{"t":57,"v":0.1},{"t":57.25,"v":0.03},{"t":57.5,"v":-0.06},{"t":57.75,"v":-0.09},{"t":58,"v":0},{"t":58.25,"v":0.08},{"t":58.5,"v":0.07},{"t":58.75,"v":-0.03},{"t":59,"v":-0.09},{"t":59.25,"v":-0.04},{"t":59.5,"v":0.05},{"t":59.75,"v":0.08},{"t":60,"v":0.01}]
},
"vconcat":[
{"data":{"name":"NMED"},"mark":"line","encoding":{"x":{"field":"t","type":"quantitative","scale":{"domain":[0,60],"nice":false},"axis":{"values":[0,20,40],"title":null}},"y":{"field":"v","type":"quantitative","scale":{"domain":[-1,1]},"axis":{"title":"NMED"}}}},
{"data":{"name":"OCHT"},"mark":"line","encoding":{"x":{"field":"t","type":"quantitative","scale":{"domain":[0,60],"nice":false},"axis":{"values":[0,20,40],"title":null}},"y":{"field":"v","type":"quantitative","scale":{"domain":[-1,1]},"axis":{"title":"OCHT"}}}},
{"data":{"name":"OMED"},"mark":"line","encoding":{"x":{"field":"t","type":"quantitative","scale":{"domain":[0,60],"nice":false},"axis":{"values":[0,20,40],"title":null}},"y":{"field":"v","type":"quantitative","scale":{"domain":[-1,1]},"axis":{"title":"OMED"}}}},
{"data":{"name":"KOGO"},"mark":"line","encoding":{"x":{"field":"t","type":"quantitative","scale":{"domain":[0,60],"nice":false},"axis":{"values":[0,20,40],"title":null}},"y":{"field":"v","type":"quantitative","scale":{"domain":[-1,1]},"axis":{"title":"KOGO"}}}},
{"data":{"name":"PROB"},"mark":"line","encoding":{"x":{"field":"t","type":"quantitative","scale":{"domain":[0,60],"nice":false},"axis":{"values":[0,20,40],"title":null}},"y":{"field":"v","type":"quantitative","scale":{"domain":[-1,1]},"axis":{"title":"PROB"}}}},
{"data":{"name":"BHE"},"mark":"line","encoding":{"x":{"field":"t","type":"quantitative","scale":{"domain":[0,60],"nice":false},"axis":{"values":[0,20,40],"title":null}},"y":{"field":"v","type":"quantitative","scale":{"domain":[-1,1]},"axis":{"title":"BHE"}}}},
{"data":{"name":"PYRM"},"mark":"line","encoding":{"x":{"field":"t","type":"quantitative","scale":{"domain":[0,60],"nice":false},"axis":{"values":[0,20,40],"title":null}},"y":{"field":"v","type":"quantitative","scale":{"domain":[-1,1]},"axis":{"title":"PYRM"}}}},
{"data":{"name":"LAGB"},"mark":"line","encoding":{"x":{"field":"t","type":"quantitative","scale":{"domain":[0,60],"nice":false},"axis":{"values":[0,20,40],"title":null}},"y":{"field":"v","type":"quantitative","scale":{"domain":[-1,1]},"axis":{"title":"LAGB"}}}},
{"data":{"name":"GLOK"},"mark":"line","encoding":{"x":{"field":"t","type":"quantitative","scale":{"domain":[0,60],"nice":false},"axis":{"values":[0,20,40],"title":null}},"y":{"field":"v","type":"quantitative","scale":{"domain":[-1,1]},"axis":{"title":"GLOK"}}}},
{"data":{"name":"BGG"},"mark":"line","encoding":{"x":{"field":"t","type":"quantitative","scale":{"domain":[0,60],"nice":false},"axis":{"values":[0,20,40],"title":null}},"y":{"field":"v","type":"quantitative","scale":{"domain":[-1,1]},"axis":{"title":"BGG"}}}},
{"data":{"name":"BEDO"},"mark":"line","encoding":{"x":{"field":"t","type":"quantitative","scale":{"domain":[0,60],"nice":false},"axis":{"values":[0,20,40],"title":null}},"y":{"field":"v","type":"quantitative","scale":{"domain":[-1,1]},"axis":{"title":"BEDO"}}}},
{"data":{"name":"RHEN"},"mark":"line","encoding":{"x":{"field":"t","type":"quantitative","scale":{"domain":[0,60],"nice":false},"axis":{"values":[0,20,40],"title":null}},"y":{"field":"v","type":"quantitative","scale":{"domain":[-1,1]},"axis":{"title":"RHEN"}}}},
{"data":{"name":"BEMS"},"mark":"line","encoding":{"x":{"field":"t","type":"quantitative","scale":{"domain":[0,60],"nice":false},"axis":{"values":[0,20,40],"title":null}},"y":{"field":"v","type":"quantitative","scale":{"domain":[-1,1]},"axis":{"title":"BEMS"}}}},
{"data":{"name":"KOE"},"mark":"line","encoding":{"x":{"field":"t","type":"quantitative","scale":{"domain":[0,60],"nice":false},"axis":{"values":[0,20,40],"title":null}},"y":{"field":"v","type":"quantitative","scale":{"domain":[-1,1]},"axis":{"title":"KOE"}}}},
{"data":{"name":"BEUR"},"mark":"line","encoding":{"x":{"field":"t","type":"quantitative","scale":{"domain":[0,60],"nice":false},"axis":{"values":[0,20,40],"title":null}},"y":{"field":"v","type":"quantitative","scale":{"domain":[-1,1]},"axis":{"title":"BEUR"}}}},
{"data":{"name":"TRIT"},"mark":"line","encoding":{"x":{"field":"t","type":"quantitative","scale":{"domain":[0,60],"nice":false},"axis":{"values":[0,20,40],"labels":true,"labelFontSize":30,"labelFont":"Liberation Sans","labelColor":"black","labelFlush":false,"title":"Zeit[s]","titleX":805,"titleY":44,"titleAlign":"center","titleBaseline":"alphabetic"}},"y":{"field":"v","type":"quantitative","scale":{"domain":[-1,1]},"axis":{"title":"TRIT"}}}}
]
}
